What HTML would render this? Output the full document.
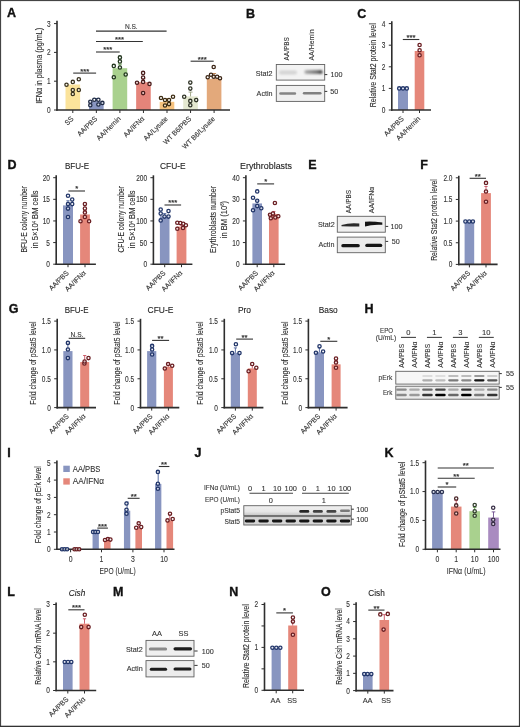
<!DOCTYPE html>
<html><head><meta charset="utf-8"><style>
html,body{margin:0;padding:0;background:#fff;}
svg{display:block;will-change:transform;}
text{font-family:"Liberation Sans",sans-serif;}
</style></head><body>
<svg width="520" height="727" viewBox="0 0 520 727">
<rect x="0" y="0" width="520" height="727" fill="#fff"/>
<defs><filter id="b4" x="-20%" y="-100%" width="140%" height="300%"><feGaussianBlur stdDeviation="0.75"/></filter></defs>
<defs><filter id="b6" x="-20%" y="-100%" width="140%" height="300%"><feGaussianBlur stdDeviation="0.85"/></filter></defs>
<text x="7.00" y="17.00" font-size="12.5" fill="#111" stroke="#111" stroke-width="0.35" font-weight="bold">A</text>
<rect x="65.50" y="84.50" width="14.60" height="25.50" fill="#FBE39B"/>
<rect x="89.05" y="101.30" width="14.60" height="8.70" fill="#8895C0"/>
<rect x="112.60" y="68.20" width="14.60" height="41.80" fill="#A9D18E"/>
<rect x="136.15" y="82.30" width="14.60" height="27.70" fill="#E5847A"/>
<rect x="159.70" y="101.80" width="14.60" height="8.20" fill="#F6C27E"/>
<rect x="183.25" y="96.40" width="14.60" height="13.60" fill="#E4E8D0"/>
<rect x="206.80" y="78.80" width="14.60" height="31.20" fill="#E3A97B"/>
<circle cx="66.50" cy="84.70" r="1.65" fill="#fff" fill-opacity="0.6" stroke="#3a3320" stroke-width="1.3"/>
<circle cx="72.80" cy="81.90" r="1.65" fill="#fff" fill-opacity="0.6" stroke="#3a3320" stroke-width="1.3"/>
<circle cx="78.80" cy="79.20" r="1.65" fill="#fff" fill-opacity="0.6" stroke="#3a3320" stroke-width="1.3"/>
<circle cx="72.80" cy="90.00" r="1.65" fill="#fff" fill-opacity="0.6" stroke="#3a3320" stroke-width="1.3"/>
<circle cx="78.80" cy="90.00" r="1.65" fill="#fff" fill-opacity="0.6" stroke="#3a3320" stroke-width="1.3"/>
<circle cx="72.80" cy="94.00" r="1.65" fill="#fff" fill-opacity="0.6" stroke="#3a3320" stroke-width="1.3"/>
<line x1="96.35" y1="101.30" x2="96.35" y2="98.50" stroke="#4a6098" stroke-width="0.9"/>
<line x1="94.35" y1="98.50" x2="98.35" y2="98.50" stroke="#4a6098" stroke-width="0.9"/>
<circle cx="90.30" cy="101.80" r="1.65" fill="#fff" fill-opacity="0.6" stroke="#1e2a44" stroke-width="1.3"/>
<circle cx="94.30" cy="99.80" r="1.65" fill="#fff" fill-opacity="0.6" stroke="#1e2a44" stroke-width="1.3"/>
<circle cx="98.40" cy="99.80" r="1.65" fill="#fff" fill-opacity="0.6" stroke="#1e2a44" stroke-width="1.3"/>
<circle cx="102.40" cy="102.90" r="1.65" fill="#fff" fill-opacity="0.6" stroke="#1e2a44" stroke-width="1.3"/>
<circle cx="90.30" cy="105.20" r="1.65" fill="#fff" fill-opacity="0.6" stroke="#1e2a44" stroke-width="1.3"/>
<circle cx="98.40" cy="104.50" r="1.65" fill="#fff" fill-opacity="0.6" stroke="#1e2a44" stroke-width="1.3"/>
<line x1="119.90" y1="68.20" x2="119.90" y2="64.10" stroke="#5f9a4a" stroke-width="0.9"/>
<line x1="117.90" y1="64.10" x2="121.90" y2="64.10" stroke="#5f9a4a" stroke-width="0.9"/>
<circle cx="119.90" cy="57.40" r="1.65" fill="#fff" fill-opacity="0.6" stroke="#22361e" stroke-width="1.3"/>
<circle cx="119.90" cy="61.40" r="1.65" fill="#fff" fill-opacity="0.6" stroke="#22361e" stroke-width="1.3"/>
<circle cx="113.80" cy="65.90" r="1.65" fill="#fff" fill-opacity="0.6" stroke="#22361e" stroke-width="1.3"/>
<circle cx="119.90" cy="67.50" r="1.65" fill="#fff" fill-opacity="0.6" stroke="#22361e" stroke-width="1.3"/>
<circle cx="125.70" cy="74.50" r="1.65" fill="#fff" fill-opacity="0.6" stroke="#22361e" stroke-width="1.3"/>
<circle cx="113.80" cy="77.30" r="1.65" fill="#fff" fill-opacity="0.6" stroke="#22361e" stroke-width="1.3"/>
<line x1="143.45" y1="82.30" x2="143.45" y2="78.70" stroke="#c84f5e" stroke-width="0.9"/>
<line x1="141.45" y1="78.70" x2="145.45" y2="78.70" stroke="#c84f5e" stroke-width="0.9"/>
<circle cx="143.10" cy="72.90" r="1.65" fill="#fff" fill-opacity="0.6" stroke="#4a1d1c" stroke-width="1.3"/>
<circle cx="143.10" cy="77.60" r="1.65" fill="#fff" fill-opacity="0.6" stroke="#4a1d1c" stroke-width="1.3"/>
<circle cx="137.00" cy="82.70" r="1.65" fill="#fff" fill-opacity="0.6" stroke="#4a1d1c" stroke-width="1.3"/>
<circle cx="143.10" cy="81.90" r="1.65" fill="#fff" fill-opacity="0.6" stroke="#4a1d1c" stroke-width="1.3"/>
<circle cx="149.50" cy="83.90" r="1.65" fill="#fff" fill-opacity="0.6" stroke="#4a1d1c" stroke-width="1.3"/>
<circle cx="143.10" cy="93.10" r="1.65" fill="#fff" fill-opacity="0.6" stroke="#4a1d1c" stroke-width="1.3"/>
<line x1="167.00" y1="101.80" x2="167.00" y2="99.00" stroke="#d09040" stroke-width="0.9"/>
<line x1="165.00" y1="99.00" x2="169.00" y2="99.00" stroke="#d09040" stroke-width="0.9"/>
<circle cx="161.00" cy="98.00" r="1.65" fill="#fff" fill-opacity="0.6" stroke="#3d2c12" stroke-width="1.3"/>
<circle cx="165.00" cy="100.00" r="1.65" fill="#fff" fill-opacity="0.6" stroke="#3d2c12" stroke-width="1.3"/>
<circle cx="169.00" cy="100.00" r="1.65" fill="#fff" fill-opacity="0.6" stroke="#3d2c12" stroke-width="1.3"/>
<circle cx="173.00" cy="96.80" r="1.65" fill="#fff" fill-opacity="0.6" stroke="#3d2c12" stroke-width="1.3"/>
<circle cx="165.00" cy="105.50" r="1.65" fill="#fff" fill-opacity="0.6" stroke="#3d2c12" stroke-width="1.3"/>
<circle cx="169.00" cy="104.10" r="1.65" fill="#fff" fill-opacity="0.6" stroke="#3d2c12" stroke-width="1.3"/>
<line x1="190.55" y1="96.40" x2="190.55" y2="92.10" stroke="#9aa080" stroke-width="0.9"/>
<line x1="188.55" y1="92.10" x2="192.55" y2="92.10" stroke="#9aa080" stroke-width="0.9"/>
<circle cx="190.30" cy="82.60" r="1.65" fill="#fff" fill-opacity="0.6" stroke="#2f3326" stroke-width="1.3"/>
<circle cx="190.30" cy="88.60" r="1.65" fill="#fff" fill-opacity="0.6" stroke="#2f3326" stroke-width="1.3"/>
<circle cx="184.20" cy="96.70" r="1.65" fill="#fff" fill-opacity="0.6" stroke="#2f3326" stroke-width="1.3"/>
<circle cx="196.20" cy="100.10" r="1.65" fill="#fff" fill-opacity="0.6" stroke="#2f3326" stroke-width="1.3"/>
<circle cx="190.30" cy="100.90" r="1.65" fill="#fff" fill-opacity="0.6" stroke="#2f3326" stroke-width="1.3"/>
<circle cx="190.30" cy="105.20" r="1.65" fill="#fff" fill-opacity="0.6" stroke="#2f3326" stroke-width="1.3"/>
<line x1="214.10" y1="78.80" x2="214.10" y2="73.50" stroke="#b87a4a" stroke-width="0.9"/>
<line x1="212.10" y1="73.50" x2="216.10" y2="73.50" stroke="#b87a4a" stroke-width="0.9"/>
<circle cx="213.70" cy="67.00" r="1.65" fill="#fff" fill-opacity="0.6" stroke="#3c2616" stroke-width="1.3"/>
<circle cx="207.70" cy="77.20" r="1.65" fill="#fff" fill-opacity="0.6" stroke="#3c2616" stroke-width="1.3"/>
<circle cx="211.00" cy="74.80" r="1.65" fill="#fff" fill-opacity="0.6" stroke="#3c2616" stroke-width="1.3"/>
<circle cx="213.70" cy="76.80" r="1.65" fill="#fff" fill-opacity="0.6" stroke="#3c2616" stroke-width="1.3"/>
<circle cx="217.10" cy="76.80" r="1.65" fill="#fff" fill-opacity="0.6" stroke="#3c2616" stroke-width="1.3"/>
<circle cx="220.00" cy="78.20" r="1.65" fill="#fff" fill-opacity="0.6" stroke="#3c2616" stroke-width="1.3"/>
<line x1="57.00" y1="20.80" x2="57.00" y2="110.80" stroke="#2e2e2e" stroke-width="1.6"/>
<line x1="54.00" y1="110.00" x2="57.00" y2="110.00" stroke="#2e2e2e" stroke-width="1"/>
<text transform="translate(50.70,112.92) rotate(0) scale(0.76,1)" font-size="8.6" fill="#333" stroke="#333" stroke-width="0.12" text-anchor="end">0</text>
<line x1="54.00" y1="81.20" x2="57.00" y2="81.20" stroke="#2e2e2e" stroke-width="1"/>
<text transform="translate(50.70,84.12) rotate(0) scale(0.76,1)" font-size="8.6" fill="#333" stroke="#333" stroke-width="0.12" text-anchor="end">1</text>
<line x1="54.00" y1="52.40" x2="57.00" y2="52.40" stroke="#2e2e2e" stroke-width="1"/>
<text transform="translate(50.70,55.32) rotate(0) scale(0.76,1)" font-size="8.6" fill="#333" stroke="#333" stroke-width="0.12" text-anchor="end">2</text>
<line x1="54.00" y1="23.60" x2="57.00" y2="23.60" stroke="#2e2e2e" stroke-width="1"/>
<text transform="translate(50.70,26.52) rotate(0) scale(0.76,1)" font-size="8.6" fill="#333" stroke="#333" stroke-width="0.12" text-anchor="end">3</text>
<line x1="56.20" y1="110.00" x2="230.00" y2="110.00" stroke="#2e2e2e" stroke-width="1.6"/>
<line x1="72.80" y1="110.00" x2="72.80" y2="113.00" stroke="#2e2e2e" stroke-width="1"/>
<line x1="96.35" y1="110.00" x2="96.35" y2="113.00" stroke="#2e2e2e" stroke-width="1"/>
<line x1="119.90" y1="110.00" x2="119.90" y2="113.00" stroke="#2e2e2e" stroke-width="1"/>
<line x1="143.45" y1="110.00" x2="143.45" y2="113.00" stroke="#2e2e2e" stroke-width="1"/>
<line x1="167.00" y1="110.00" x2="167.00" y2="113.00" stroke="#2e2e2e" stroke-width="1"/>
<line x1="190.55" y1="110.00" x2="190.55" y2="113.00" stroke="#2e2e2e" stroke-width="1"/>
<line x1="214.10" y1="110.00" x2="214.10" y2="113.00" stroke="#2e2e2e" stroke-width="1"/>
<text transform="translate(42.10,65.70) rotate(-90)" font-size="9.2" fill="#2a2a2a" stroke="#2a2a2a" stroke-width="0.1" text-anchor="middle" textLength="76" lengthAdjust="spacingAndGlyphs">IFNα in plasma (pg/mL)</text>
<text transform="translate(74.10,119.20) rotate(-45) scale(0.97,1)" font-size="7.1" fill="#333" stroke="#333" stroke-width="0.1" text-anchor="end">SS</text>
<text transform="translate(97.65,119.20) rotate(-45) scale(0.97,1)" font-size="7.1" fill="#333" stroke="#333" stroke-width="0.1" text-anchor="end">AA/PBS</text>
<text transform="translate(121.20,119.20) rotate(-45) scale(0.97,1)" font-size="7.1" fill="#333" stroke="#333" stroke-width="0.1" text-anchor="end">AA/Hemin</text>
<text transform="translate(144.75,119.20) rotate(-45) scale(0.97,1)" font-size="7.1" fill="#333" stroke="#333" stroke-width="0.1" text-anchor="end">AA/IFNα</text>
<text transform="translate(168.30,119.20) rotate(-45) scale(0.97,1)" font-size="7.1" fill="#333" stroke="#333" stroke-width="0.1" text-anchor="end">AA/Lysate</text>
<text transform="translate(191.85,119.20) rotate(-45) scale(0.97,1)" font-size="7.1" fill="#333" stroke="#333" stroke-width="0.1" text-anchor="end">WT B6/PBS</text>
<text transform="translate(215.40,119.20) rotate(-45) scale(0.97,1)" font-size="7.1" fill="#333" stroke="#333" stroke-width="0.1" text-anchor="end">WT B6/Lysate</text>
<line x1="73.20" y1="73.10" x2="96.10" y2="73.10" stroke="#333" stroke-width="1.1"/>
<text x="84.65" y="73.55" font-size="7.7" fill="#333" stroke="#333" stroke-width="0.25" text-anchor="middle">***</text>
<line x1="96.00" y1="52.00" x2="119.70" y2="52.00" stroke="#333" stroke-width="1.1"/>
<text x="107.85" y="52.45" font-size="7.7" fill="#333" stroke="#333" stroke-width="0.25" text-anchor="middle">***</text>
<line x1="96.00" y1="41.50" x2="142.80" y2="41.50" stroke="#333" stroke-width="1.1"/>
<text x="119.40" y="41.95" font-size="7.7" fill="#333" stroke="#333" stroke-width="0.25" text-anchor="middle">***</text>
<line x1="96.00" y1="31.10" x2="166.60" y2="31.10" stroke="#333" stroke-width="1.1"/>
<text x="131.30" y="29.30" font-size="6.6" fill="#333" stroke="#333" stroke-width="0.1" text-anchor="middle">N.S.</text>
<line x1="190.60" y1="61.20" x2="213.70" y2="61.20" stroke="#333" stroke-width="1.1"/>
<text x="202.15" y="61.65" font-size="7.7" fill="#333" stroke="#333" stroke-width="0.25" text-anchor="middle">***</text>
<text x="246.00" y="17.50" font-size="12.5" fill="#111" stroke="#111" stroke-width="0.35" font-weight="bold">B</text>
<text transform="translate(289.30,60.50) rotate(-90)" font-size="6.9" fill="#333" stroke="#333" stroke-width="0.1" textLength="23.4" lengthAdjust="spacingAndGlyphs">AA/PBS</text>
<text transform="translate(314.40,60.50) rotate(-90)" font-size="6.9" fill="#333" stroke="#333" stroke-width="0.1" textLength="31.2" lengthAdjust="spacingAndGlyphs">AA/Hemin</text>
<rect x="276.30" y="64.50" width="48.40" height="15.60" fill="#f3f3f3" stroke="#606060" stroke-width="0.9"/>
<rect x="279.00" y="70.60" width="18.00" height="3.80" rx="1.90" fill="#d4d4d4" opacity="1.0" filter="url(#b6)"/>
<defs><linearGradient id="gB2" x1="0" x2="1" y1="0" y2="0"><stop offset="0" stop-color="#b0b0b0"/><stop offset="0.7" stop-color="#777"/><stop offset="1" stop-color="#3a3a3a"/></linearGradient></defs>
<rect x="304.30" y="70.10" width="18.40" height="3.80" rx="1.90" fill="url(#gB2)" opacity="1.0" filter="url(#b6)"/>
<rect x="276.30" y="85.40" width="48.40" height="16.00" fill="#f0f0f0" stroke="#606060" stroke-width="0.9"/>
<rect x="279.20" y="92.20" width="17.00" height="2.60" rx="1.30" fill="#858585" opacity="1.0" filter="url(#b4)"/>
<rect x="302.80" y="92.00" width="18.80" height="2.60" rx="1.30" fill="#808080" opacity="1.0" filter="url(#b4)"/>
<text x="272.60" y="75.60" font-size="7.2" fill="#333" stroke="#333" stroke-width="0.1" text-anchor="end">Stat2</text>
<text x="272.60" y="96.30" font-size="7.2" fill="#333" stroke="#333" stroke-width="0.1" text-anchor="end">Actin</text>
<line x1="324.70" y1="74.60" x2="327.30" y2="74.60" stroke="#333" stroke-width="1.0"/>
<text x="330.50" y="77.19" font-size="7.2" fill="#333" stroke="#333" stroke-width="0.1">100</text>
<line x1="324.70" y1="91.40" x2="327.30" y2="91.40" stroke="#333" stroke-width="1.0"/>
<text x="330.30" y="93.99" font-size="7.2" fill="#333" stroke="#333" stroke-width="0.1">50</text>
<text x="357.30" y="17.50" font-size="12.5" fill="#111" stroke="#111" stroke-width="0.35" font-weight="bold">C</text>
<rect x="398.00" y="88.40" width="10.00" height="21.60" fill="#8895C0"/>
<rect x="414.70" y="51.00" width="9.60" height="59.00" fill="#E5877A"/>
<circle cx="399.20" cy="88.40" r="1.65" fill="#fff" fill-opacity="0.6" stroke="#22366a" stroke-width="1.3"/>
<circle cx="403.00" cy="88.40" r="1.65" fill="#fff" fill-opacity="0.6" stroke="#22366a" stroke-width="1.3"/>
<circle cx="406.80" cy="88.40" r="1.65" fill="#fff" fill-opacity="0.6" stroke="#22366a" stroke-width="1.3"/>
<circle cx="419.60" cy="45.00" r="1.65" fill="#fff" fill-opacity="0.6" stroke="#6a1e22" stroke-width="1.3"/>
<circle cx="419.60" cy="50.30" r="1.65" fill="#fff" fill-opacity="0.6" stroke="#6a1e22" stroke-width="1.3"/>
<circle cx="419.60" cy="55.30" r="1.65" fill="#fff" fill-opacity="0.6" stroke="#6a1e22" stroke-width="1.3"/>
<line x1="391.80" y1="21.20" x2="391.80" y2="110.80" stroke="#2e2e2e" stroke-width="1.6"/>
<line x1="388.80" y1="110.00" x2="391.80" y2="110.00" stroke="#2e2e2e" stroke-width="1"/>
<text transform="translate(385.50,112.92) rotate(0) scale(0.76,1)" font-size="8.6" fill="#333" stroke="#333" stroke-width="0.12" text-anchor="end">0</text>
<line x1="388.80" y1="88.40" x2="391.80" y2="88.40" stroke="#2e2e2e" stroke-width="1"/>
<text transform="translate(385.50,91.32) rotate(0) scale(0.76,1)" font-size="8.6" fill="#333" stroke="#333" stroke-width="0.12" text-anchor="end">1</text>
<line x1="388.80" y1="66.80" x2="391.80" y2="66.80" stroke="#2e2e2e" stroke-width="1"/>
<text transform="translate(385.50,69.72) rotate(0) scale(0.76,1)" font-size="8.6" fill="#333" stroke="#333" stroke-width="0.12" text-anchor="end">2</text>
<line x1="388.80" y1="45.20" x2="391.80" y2="45.20" stroke="#2e2e2e" stroke-width="1"/>
<text transform="translate(385.50,48.12) rotate(0) scale(0.76,1)" font-size="8.6" fill="#333" stroke="#333" stroke-width="0.12" text-anchor="end">3</text>
<line x1="388.80" y1="23.60" x2="391.80" y2="23.60" stroke="#2e2e2e" stroke-width="1"/>
<text transform="translate(385.50,26.52) rotate(0) scale(0.76,1)" font-size="8.6" fill="#333" stroke="#333" stroke-width="0.12" text-anchor="end">4</text>
<line x1="391.00" y1="110.00" x2="431.00" y2="110.00" stroke="#2e2e2e" stroke-width="1.6"/>
<line x1="403.00" y1="110.00" x2="403.00" y2="113.00" stroke="#2e2e2e" stroke-width="1"/>
<line x1="419.50" y1="110.00" x2="419.50" y2="113.00" stroke="#2e2e2e" stroke-width="1"/>
<text transform="translate(376.30,65.30) rotate(-90)" font-size="9.2" fill="#2a2a2a" stroke="#2a2a2a" stroke-width="0.1" text-anchor="middle" textLength="84" lengthAdjust="spacingAndGlyphs">Relative Stat2 protein level</text>
<text transform="translate(404.30,119.20) rotate(-45) scale(0.97,1)" font-size="7.1" fill="#333" stroke="#333" stroke-width="0.1" text-anchor="end">AA/PBS</text>
<text transform="translate(420.80,119.20) rotate(-45) scale(0.97,1)" font-size="7.1" fill="#333" stroke="#333" stroke-width="0.1" text-anchor="end">AA/Hemin</text>
<line x1="402.80" y1="39.50" x2="419.30" y2="39.50" stroke="#333" stroke-width="1.1"/>
<text x="411.05" y="39.95" font-size="7.7" fill="#333" stroke="#333" stroke-width="0.25" text-anchor="middle">***</text>
<text x="7.50" y="169.40" font-size="12.5" fill="#111" stroke="#111" stroke-width="0.35" font-weight="bold">D</text>
<text x="77.00" y="169.40" font-size="9.1" fill="#222" stroke="#222" stroke-width="0.1" text-anchor="middle" textLength="24.2" lengthAdjust="spacingAndGlyphs">BFU-E</text>
<rect x="63.00" y="205.38" width="10.00" height="58.82" fill="#8895C0"/>
<rect x="80.10" y="214.46" width="9.80" height="49.74" fill="#E5877A"/>
<line x1="68.00" y1="205.38" x2="68.00" y2="200.80" stroke="#4a6098" stroke-width="0.9"/>
<line x1="66.40" y1="200.80" x2="69.60" y2="200.80" stroke="#4a6098" stroke-width="0.9"/>
<line x1="85.00" y1="214.46" x2="85.00" y2="211.40" stroke="#c84f5e" stroke-width="0.9"/>
<line x1="83.40" y1="211.40" x2="86.60" y2="211.40" stroke="#c84f5e" stroke-width="0.9"/>
<circle cx="68.00" cy="195.80" r="1.65" fill="#fff" fill-opacity="0.6" stroke="#22366a" stroke-width="1.3"/>
<circle cx="72.20" cy="199.60" r="1.65" fill="#fff" fill-opacity="0.6" stroke="#22366a" stroke-width="1.3"/>
<circle cx="72.20" cy="204.10" r="1.65" fill="#fff" fill-opacity="0.6" stroke="#22366a" stroke-width="1.3"/>
<circle cx="68.00" cy="204.10" r="1.65" fill="#fff" fill-opacity="0.6" stroke="#22366a" stroke-width="1.3"/>
<circle cx="68.00" cy="208.60" r="1.65" fill="#fff" fill-opacity="0.6" stroke="#22366a" stroke-width="1.3"/>
<circle cx="68.00" cy="217.00" r="1.65" fill="#fff" fill-opacity="0.6" stroke="#22366a" stroke-width="1.3"/>
<circle cx="84.90" cy="204.10" r="1.65" fill="#fff" fill-opacity="0.6" stroke="#6a1e22" stroke-width="1.3"/>
<circle cx="84.90" cy="208.60" r="1.65" fill="#fff" fill-opacity="0.6" stroke="#6a1e22" stroke-width="1.3"/>
<circle cx="84.90" cy="212.40" r="1.65" fill="#fff" fill-opacity="0.6" stroke="#6a1e22" stroke-width="1.3"/>
<circle cx="84.90" cy="217.00" r="1.65" fill="#fff" fill-opacity="0.6" stroke="#6a1e22" stroke-width="1.3"/>
<circle cx="80.50" cy="221.20" r="1.65" fill="#fff" fill-opacity="0.6" stroke="#6a1e22" stroke-width="1.3"/>
<circle cx="89.10" cy="221.20" r="1.65" fill="#fff" fill-opacity="0.6" stroke="#6a1e22" stroke-width="1.3"/>
<line x1="56.20" y1="175.30" x2="56.20" y2="265.00" stroke="#2e2e2e" stroke-width="1.6"/>
<line x1="53.20" y1="264.20" x2="56.20" y2="264.20" stroke="#2e2e2e" stroke-width="1"/>
<text transform="translate(49.90,267.12) rotate(0) scale(0.76,1)" font-size="8.6" fill="#333" stroke="#333" stroke-width="0.12" text-anchor="end">0</text>
<line x1="53.20" y1="242.57" x2="56.20" y2="242.57" stroke="#2e2e2e" stroke-width="1"/>
<text transform="translate(49.90,245.50) rotate(0) scale(0.76,1)" font-size="8.6" fill="#333" stroke="#333" stroke-width="0.12" text-anchor="end">5</text>
<line x1="53.20" y1="220.95" x2="56.20" y2="220.95" stroke="#2e2e2e" stroke-width="1"/>
<text transform="translate(49.90,223.87) rotate(0) scale(0.76,1)" font-size="8.6" fill="#333" stroke="#333" stroke-width="0.12" text-anchor="end">10</text>
<line x1="53.20" y1="199.32" x2="56.20" y2="199.32" stroke="#2e2e2e" stroke-width="1"/>
<text transform="translate(49.90,202.25) rotate(0) scale(0.76,1)" font-size="8.6" fill="#333" stroke="#333" stroke-width="0.12" text-anchor="end">15</text>
<line x1="53.20" y1="177.70" x2="56.20" y2="177.70" stroke="#2e2e2e" stroke-width="1"/>
<text transform="translate(49.90,180.62) rotate(0) scale(0.76,1)" font-size="8.6" fill="#333" stroke="#333" stroke-width="0.12" text-anchor="end">20</text>
<line x1="55.40" y1="264.20" x2="95.90" y2="264.20" stroke="#2e2e2e" stroke-width="1.6"/>
<line x1="68.00" y1="264.20" x2="68.00" y2="267.20" stroke="#2e2e2e" stroke-width="1"/>
<line x1="85.00" y1="264.20" x2="85.00" y2="267.20" stroke="#2e2e2e" stroke-width="1"/>
<text transform="translate(26.60,219.30) rotate(-90)" font-size="9.2" fill="#2a2a2a" stroke="#2a2a2a" stroke-width="0.1" text-anchor="middle" textLength="66.5" lengthAdjust="spacingAndGlyphs">BFU-E colony number</text>
<text transform="translate(38.40,219.30) rotate(-90)" font-size="9.2" fill="#2a2a2a" stroke="#2a2a2a" stroke-width="0.1" text-anchor="middle" textLength="57.7" lengthAdjust="spacingAndGlyphs">in 5×10<tspan font-size="5" dy="-2.6">4</tspan><tspan dy="2.6"> BM cells</tspan></text>
<text transform="translate(69.30,273.40) rotate(-45) scale(0.97,1)" font-size="7.1" fill="#333" stroke="#333" stroke-width="0.1" text-anchor="end">AA/PBS</text>
<text transform="translate(86.30,273.40) rotate(-45) scale(0.97,1)" font-size="7.1" fill="#333" stroke="#333" stroke-width="0.1" text-anchor="end">AA/IFNα</text>
<line x1="68.40" y1="191.00" x2="85.00" y2="191.00" stroke="#333" stroke-width="1.1"/>
<text x="76.70" y="191.45" font-size="7.7" fill="#333" stroke="#333" stroke-width="0.25" text-anchor="middle">*</text>
<text x="172.80" y="169.40" font-size="9.1" fill="#222" stroke="#222" stroke-width="0.1" text-anchor="middle" textLength="25.7" lengthAdjust="spacingAndGlyphs">CFU-E</text>
<rect x="159.90" y="216.19" width="9.60" height="48.01" fill="#8895C0"/>
<rect x="176.60" y="226.57" width="9.80" height="37.63" fill="#E5877A"/>
<line x1="164.70" y1="216.19" x2="164.70" y2="213.60" stroke="#4a6098" stroke-width="0.9"/>
<line x1="163.10" y1="213.60" x2="166.30" y2="213.60" stroke="#4a6098" stroke-width="0.9"/>
<line x1="181.50" y1="226.57" x2="181.50" y2="224.84" stroke="#c84f5e" stroke-width="0.9"/>
<line x1="179.90" y1="224.84" x2="183.10" y2="224.84" stroke="#c84f5e" stroke-width="0.9"/>
<circle cx="160.70" cy="209.50" r="1.65" fill="#fff" fill-opacity="0.6" stroke="#22366a" stroke-width="1.3"/>
<circle cx="168.50" cy="211.10" r="1.65" fill="#fff" fill-opacity="0.6" stroke="#22366a" stroke-width="1.3"/>
<circle cx="160.70" cy="213.60" r="1.65" fill="#fff" fill-opacity="0.6" stroke="#22366a" stroke-width="1.3"/>
<circle cx="164.50" cy="216.60" r="1.65" fill="#fff" fill-opacity="0.6" stroke="#22366a" stroke-width="1.3"/>
<circle cx="168.50" cy="216.60" r="1.65" fill="#fff" fill-opacity="0.6" stroke="#22366a" stroke-width="1.3"/>
<circle cx="160.70" cy="220.40" r="1.65" fill="#fff" fill-opacity="0.6" stroke="#22366a" stroke-width="1.3"/>
<circle cx="177.30" cy="222.70" r="1.65" fill="#fff" fill-opacity="0.6" stroke="#6a1e22" stroke-width="1.3"/>
<circle cx="180.30" cy="223.10" r="1.65" fill="#fff" fill-opacity="0.6" stroke="#6a1e22" stroke-width="1.3"/>
<circle cx="183.30" cy="223.70" r="1.65" fill="#fff" fill-opacity="0.6" stroke="#6a1e22" stroke-width="1.3"/>
<circle cx="185.90" cy="225.30" r="1.65" fill="#fff" fill-opacity="0.6" stroke="#6a1e22" stroke-width="1.3"/>
<circle cx="177.30" cy="228.70" r="1.65" fill="#fff" fill-opacity="0.6" stroke="#6a1e22" stroke-width="1.3"/>
<circle cx="183.00" cy="228.00" r="1.65" fill="#fff" fill-opacity="0.6" stroke="#6a1e22" stroke-width="1.3"/>
<line x1="153.40" y1="175.30" x2="153.40" y2="265.00" stroke="#2e2e2e" stroke-width="1.6"/>
<line x1="150.40" y1="264.20" x2="153.40" y2="264.20" stroke="#2e2e2e" stroke-width="1"/>
<text transform="translate(147.10,267.12) rotate(0) scale(0.76,1)" font-size="8.6" fill="#333" stroke="#333" stroke-width="0.12" text-anchor="end">0</text>
<line x1="150.40" y1="242.57" x2="153.40" y2="242.57" stroke="#2e2e2e" stroke-width="1"/>
<text transform="translate(147.10,245.50) rotate(0) scale(0.76,1)" font-size="8.6" fill="#333" stroke="#333" stroke-width="0.12" text-anchor="end">50</text>
<line x1="150.40" y1="220.95" x2="153.40" y2="220.95" stroke="#2e2e2e" stroke-width="1"/>
<text transform="translate(147.10,223.87) rotate(0) scale(0.76,1)" font-size="8.6" fill="#333" stroke="#333" stroke-width="0.12" text-anchor="end">100</text>
<line x1="150.40" y1="199.32" x2="153.40" y2="199.32" stroke="#2e2e2e" stroke-width="1"/>
<text transform="translate(147.10,202.25) rotate(0) scale(0.76,1)" font-size="8.6" fill="#333" stroke="#333" stroke-width="0.12" text-anchor="end">150</text>
<line x1="150.40" y1="177.70" x2="153.40" y2="177.70" stroke="#2e2e2e" stroke-width="1"/>
<text transform="translate(147.10,180.62) rotate(0) scale(0.76,1)" font-size="8.6" fill="#333" stroke="#333" stroke-width="0.12" text-anchor="end">200</text>
<line x1="152.60" y1="264.20" x2="192.40" y2="264.20" stroke="#2e2e2e" stroke-width="1.6"/>
<line x1="164.70" y1="264.20" x2="164.70" y2="267.20" stroke="#2e2e2e" stroke-width="1"/>
<line x1="181.50" y1="264.20" x2="181.50" y2="267.20" stroke="#2e2e2e" stroke-width="1"/>
<text transform="translate(123.50,219.30) rotate(-90)" font-size="9.2" fill="#2a2a2a" stroke="#2a2a2a" stroke-width="0.1" text-anchor="middle" textLength="66.5" lengthAdjust="spacingAndGlyphs">CFU-E colony number</text>
<text transform="translate(135.30,219.30) rotate(-90)" font-size="9.2" fill="#2a2a2a" stroke="#2a2a2a" stroke-width="0.1" text-anchor="middle" textLength="57.7" lengthAdjust="spacingAndGlyphs">in 5×10<tspan font-size="5" dy="-2.6">4</tspan><tspan dy="2.6"> BM cells</tspan></text>
<text transform="translate(166.00,273.40) rotate(-45) scale(0.97,1)" font-size="7.1" fill="#333" stroke="#333" stroke-width="0.1" text-anchor="end">AA/PBS</text>
<text transform="translate(182.80,273.40) rotate(-45) scale(0.97,1)" font-size="7.1" fill="#333" stroke="#333" stroke-width="0.1" text-anchor="end">AA/IFNα</text>
<line x1="164.50" y1="205.00" x2="181.10" y2="205.00" stroke="#333" stroke-width="1.1"/>
<text x="172.80" y="205.45" font-size="7.7" fill="#333" stroke="#333" stroke-width="0.25" text-anchor="middle">***</text>
<text x="266.00" y="169.40" font-size="9.1" fill="#222" stroke="#222" stroke-width="0.1" text-anchor="middle" textLength="52" lengthAdjust="spacingAndGlyphs">Erythroblasts</text>
<rect x="252.40" y="203.43" width="9.60" height="60.77" fill="#8895C0"/>
<rect x="269.00" y="214.03" width="9.60" height="50.17" fill="#E5877A"/>
<line x1="257.20" y1="203.43" x2="257.20" y2="200.41" stroke="#4a6098" stroke-width="0.9"/>
<line x1="255.60" y1="200.41" x2="258.80" y2="200.41" stroke="#4a6098" stroke-width="0.9"/>
<line x1="273.80" y1="214.03" x2="273.80" y2="211.44" stroke="#c84f5e" stroke-width="0.9"/>
<line x1="272.20" y1="211.44" x2="275.40" y2="211.44" stroke="#c84f5e" stroke-width="0.9"/>
<circle cx="257.20" cy="191.40" r="1.65" fill="#fff" fill-opacity="0.6" stroke="#22366a" stroke-width="1.3"/>
<circle cx="253.00" cy="197.80" r="1.65" fill="#fff" fill-opacity="0.6" stroke="#22366a" stroke-width="1.3"/>
<circle cx="257.20" cy="200.80" r="1.65" fill="#fff" fill-opacity="0.6" stroke="#22366a" stroke-width="1.3"/>
<circle cx="257.20" cy="206.10" r="1.65" fill="#fff" fill-opacity="0.6" stroke="#22366a" stroke-width="1.3"/>
<circle cx="261.30" cy="208.30" r="1.65" fill="#fff" fill-opacity="0.6" stroke="#22366a" stroke-width="1.3"/>
<circle cx="253.00" cy="210.20" r="1.65" fill="#fff" fill-opacity="0.6" stroke="#22366a" stroke-width="1.3"/>
<circle cx="274.90" cy="203.00" r="1.65" fill="#fff" fill-opacity="0.6" stroke="#6a1e22" stroke-width="1.3"/>
<circle cx="273.00" cy="213.60" r="1.65" fill="#fff" fill-opacity="0.6" stroke="#6a1e22" stroke-width="1.3"/>
<circle cx="270.00" cy="214.70" r="1.65" fill="#fff" fill-opacity="0.6" stroke="#6a1e22" stroke-width="1.3"/>
<circle cx="270.80" cy="218.20" r="1.65" fill="#fff" fill-opacity="0.6" stroke="#6a1e22" stroke-width="1.3"/>
<circle cx="275.30" cy="217.40" r="1.65" fill="#fff" fill-opacity="0.6" stroke="#6a1e22" stroke-width="1.3"/>
<circle cx="278.30" cy="216.20" r="1.65" fill="#fff" fill-opacity="0.6" stroke="#6a1e22" stroke-width="1.3"/>
<line x1="245.90" y1="175.30" x2="245.90" y2="265.00" stroke="#2e2e2e" stroke-width="1.6"/>
<line x1="242.90" y1="264.20" x2="245.90" y2="264.20" stroke="#2e2e2e" stroke-width="1"/>
<text transform="translate(239.60,267.12) rotate(0) scale(0.76,1)" font-size="8.6" fill="#333" stroke="#333" stroke-width="0.12" text-anchor="end">0</text>
<line x1="242.90" y1="242.57" x2="245.90" y2="242.57" stroke="#2e2e2e" stroke-width="1"/>
<text transform="translate(239.60,245.50) rotate(0) scale(0.76,1)" font-size="8.6" fill="#333" stroke="#333" stroke-width="0.12" text-anchor="end">10</text>
<line x1="242.90" y1="220.95" x2="245.90" y2="220.95" stroke="#2e2e2e" stroke-width="1"/>
<text transform="translate(239.60,223.87) rotate(0) scale(0.76,1)" font-size="8.6" fill="#333" stroke="#333" stroke-width="0.12" text-anchor="end">20</text>
<line x1="242.90" y1="199.32" x2="245.90" y2="199.32" stroke="#2e2e2e" stroke-width="1"/>
<text transform="translate(239.60,202.25) rotate(0) scale(0.76,1)" font-size="8.6" fill="#333" stroke="#333" stroke-width="0.12" text-anchor="end">30</text>
<line x1="242.90" y1="177.70" x2="245.90" y2="177.70" stroke="#2e2e2e" stroke-width="1"/>
<text transform="translate(239.60,180.62) rotate(0) scale(0.76,1)" font-size="8.6" fill="#333" stroke="#333" stroke-width="0.12" text-anchor="end">40</text>
<line x1="245.10" y1="264.20" x2="285.10" y2="264.20" stroke="#2e2e2e" stroke-width="1.6"/>
<line x1="257.20" y1="264.20" x2="257.20" y2="267.20" stroke="#2e2e2e" stroke-width="1"/>
<line x1="273.80" y1="264.20" x2="273.80" y2="267.20" stroke="#2e2e2e" stroke-width="1"/>
<text transform="translate(215.60,219.50) rotate(-90)" font-size="9.2" fill="#2a2a2a" stroke="#2a2a2a" stroke-width="0.1" text-anchor="middle" textLength="67" lengthAdjust="spacingAndGlyphs">Erythroblasts number</text>
<text transform="translate(226.80,219.60) rotate(-90)" font-size="9.2" fill="#2a2a2a" stroke="#2a2a2a" stroke-width="0.1" text-anchor="middle" textLength="37.3" lengthAdjust="spacingAndGlyphs">in BM (10<tspan font-size="5" dy="-2.6">6</tspan><tspan dy="2.6">)</tspan></text>
<text transform="translate(258.50,273.40) rotate(-45) scale(0.97,1)" font-size="7.1" fill="#333" stroke="#333" stroke-width="0.1" text-anchor="end">AA/PBS</text>
<text transform="translate(275.10,273.40) rotate(-45) scale(0.97,1)" font-size="7.1" fill="#333" stroke="#333" stroke-width="0.1" text-anchor="end">AA/IFNα</text>
<line x1="257.20" y1="183.90" x2="274.10" y2="183.90" stroke="#333" stroke-width="1.1"/>
<text x="265.65" y="184.35" font-size="7.7" fill="#333" stroke="#333" stroke-width="0.25" text-anchor="middle">*</text>
<text x="308.20" y="169.30" font-size="12.5" fill="#111" stroke="#111" stroke-width="0.35" font-weight="bold">E</text>
<text transform="translate(351.40,213.20) rotate(-90)" font-size="6.9" fill="#333" stroke="#333" stroke-width="0.1" textLength="23.4" lengthAdjust="spacingAndGlyphs">AA/PBS</text>
<text transform="translate(374.40,213.20) rotate(-90)" font-size="6.9" fill="#333" stroke="#333" stroke-width="0.1" textLength="26.5" lengthAdjust="spacingAndGlyphs">AA/IFNα</text>
<rect x="337.30" y="216.30" width="48.00" height="15.90" fill="#efefef" stroke="#606060" stroke-width="0.9"/>
<path d="M341.5,224.9 Q350,222.6 359.3,223.6 L359.3,226.6 Q350,226.6 341.5,226.3 Z" fill="#2a2a2a" filter="url(#b4)"/>
<path d="M365,221.8 Q372,221.2 382.3,222.6 L382.3,224.8 Q372,224.2 365,226.4 Z" fill="#141414" filter="url(#b4)"/>
<rect x="337.30" y="237.10" width="48.00" height="15.60" fill="#ececec" stroke="#606060" stroke-width="0.9"/>
<rect x="341.30" y="244.05" width="18.50" height="3.30" rx="1.65" fill="#151515" opacity="1.0" filter="url(#b4)"/>
<rect x="365.20" y="243.75" width="17.10" height="3.30" rx="1.65" fill="#151515" opacity="1.0" filter="url(#b4)"/>
<text x="334.70" y="227.00" font-size="7.2" fill="#333" stroke="#333" stroke-width="0.1" text-anchor="end">Stat2</text>
<text x="334.40" y="246.60" font-size="7.2" fill="#333" stroke="#333" stroke-width="0.1" text-anchor="end">Actin</text>
<line x1="385.60" y1="226.40" x2="388.20" y2="226.40" stroke="#333" stroke-width="1.0"/>
<text x="390.60" y="228.99" font-size="7.2" fill="#333" stroke="#333" stroke-width="0.1">100</text>
<line x1="385.60" y1="241.40" x2="388.20" y2="241.40" stroke="#333" stroke-width="1.0"/>
<text x="391.70" y="243.99" font-size="7.2" fill="#333" stroke="#333" stroke-width="0.1">50</text>
<text x="420.30" y="169.30" font-size="12.5" fill="#111" stroke="#111" stroke-width="0.35" font-weight="bold">F</text>
<rect x="464.60" y="221.10" width="9.60" height="43.30" fill="#8895C0"/>
<rect x="481.10" y="193.10" width="9.80" height="71.30" fill="#E5877A"/>
<line x1="486.00" y1="193.10" x2="486.00" y2="186.50" stroke="#c84f5e" stroke-width="0.9"/>
<line x1="484.40" y1="186.50" x2="487.60" y2="186.50" stroke="#c84f5e" stroke-width="0.9"/>
<circle cx="465.40" cy="221.50" r="1.65" fill="#fff" fill-opacity="0.6" stroke="#22366a" stroke-width="1.3"/>
<circle cx="469.20" cy="221.50" r="1.65" fill="#fff" fill-opacity="0.6" stroke="#22366a" stroke-width="1.3"/>
<circle cx="472.90" cy="221.50" r="1.65" fill="#fff" fill-opacity="0.6" stroke="#22366a" stroke-width="1.3"/>
<circle cx="486.00" cy="182.90" r="1.65" fill="#fff" fill-opacity="0.6" stroke="#6a1e22" stroke-width="1.3"/>
<circle cx="486.00" cy="191.50" r="1.65" fill="#fff" fill-opacity="0.6" stroke="#6a1e22" stroke-width="1.3"/>
<circle cx="486.00" cy="201.70" r="1.65" fill="#fff" fill-opacity="0.6" stroke="#6a1e22" stroke-width="1.3"/>
<line x1="458.80" y1="175.80" x2="458.80" y2="265.20" stroke="#2e2e2e" stroke-width="1.6"/>
<line x1="455.80" y1="264.40" x2="458.80" y2="264.40" stroke="#2e2e2e" stroke-width="1"/>
<text transform="translate(452.50,267.32) rotate(0) scale(0.76,1)" font-size="8.6" fill="#333" stroke="#333" stroke-width="0.12" text-anchor="end">0</text>
<line x1="455.80" y1="242.75" x2="458.80" y2="242.75" stroke="#2e2e2e" stroke-width="1"/>
<text transform="translate(452.50,245.67) rotate(0) scale(0.76,1)" font-size="8.6" fill="#333" stroke="#333" stroke-width="0.12" text-anchor="end">0.5</text>
<line x1="455.80" y1="221.10" x2="458.80" y2="221.10" stroke="#2e2e2e" stroke-width="1"/>
<text transform="translate(452.50,224.02) rotate(0) scale(0.76,1)" font-size="8.6" fill="#333" stroke="#333" stroke-width="0.12" text-anchor="end">1.0</text>
<line x1="455.80" y1="199.45" x2="458.80" y2="199.45" stroke="#2e2e2e" stroke-width="1"/>
<text transform="translate(452.50,202.37) rotate(0) scale(0.76,1)" font-size="8.6" fill="#333" stroke="#333" stroke-width="0.12" text-anchor="end">1.5</text>
<line x1="455.80" y1="177.80" x2="458.80" y2="177.80" stroke="#2e2e2e" stroke-width="1"/>
<text transform="translate(452.50,180.72) rotate(0) scale(0.76,1)" font-size="8.6" fill="#333" stroke="#333" stroke-width="0.12" text-anchor="end">2.0</text>
<line x1="458.00" y1="264.40" x2="497.60" y2="264.40" stroke="#2e2e2e" stroke-width="1.6"/>
<line x1="469.40" y1="264.40" x2="469.40" y2="267.40" stroke="#2e2e2e" stroke-width="1"/>
<line x1="486.00" y1="264.40" x2="486.00" y2="267.40" stroke="#2e2e2e" stroke-width="1"/>
<text transform="translate(436.70,220.00) rotate(-90)" font-size="9.2" fill="#2a2a2a" stroke="#2a2a2a" stroke-width="0.1" text-anchor="middle" textLength="81.7" lengthAdjust="spacingAndGlyphs">Relative Stat2 protein level</text>
<text transform="translate(470.70,273.60) rotate(-45) scale(0.97,1)" font-size="7.1" fill="#333" stroke="#333" stroke-width="0.1" text-anchor="end">AA/PBS</text>
<text transform="translate(487.30,273.60) rotate(-45) scale(0.97,1)" font-size="7.1" fill="#333" stroke="#333" stroke-width="0.1" text-anchor="end">AA/IFNα</text>
<line x1="469.60" y1="178.30" x2="486.00" y2="178.30" stroke="#333" stroke-width="1.1"/>
<text x="477.80" y="178.75" font-size="7.7" fill="#333" stroke="#333" stroke-width="0.25" text-anchor="middle">**</text>
<text x="8.70" y="313.30" font-size="12.5" fill="#111" stroke="#111" stroke-width="0.35" font-weight="bold">G</text>
<text x="76.60" y="312.80" font-size="9.1" fill="#222" stroke="#222" stroke-width="0.1" text-anchor="middle" textLength="23.9" lengthAdjust="spacingAndGlyphs">BFU-E</text>
<rect x="63.30" y="351.09" width="9.20" height="56.51" fill="#8895C0"/>
<rect x="80.20" y="362.04" width="9.00" height="45.56" fill="#E5877A"/>
<line x1="67.90" y1="351.09" x2="67.90" y2="343.50" stroke="#4a6098" stroke-width="0.9"/>
<line x1="66.30" y1="343.50" x2="69.50" y2="343.50" stroke="#4a6098" stroke-width="0.9"/>
<line x1="84.70" y1="362.04" x2="84.70" y2="355.50" stroke="#c84f5e" stroke-width="0.9"/>
<line x1="83.10" y1="355.50" x2="86.30" y2="355.50" stroke="#c84f5e" stroke-width="0.9"/>
<circle cx="67.90" cy="342.90" r="1.65" fill="#fff" fill-opacity="0.6" stroke="#22366a" stroke-width="1.3"/>
<circle cx="67.90" cy="349.50" r="1.65" fill="#fff" fill-opacity="0.6" stroke="#22366a" stroke-width="1.3"/>
<circle cx="67.90" cy="358.10" r="1.65" fill="#fff" fill-opacity="0.6" stroke="#22366a" stroke-width="1.3"/>
<circle cx="84.40" cy="363.50" r="1.65" fill="#fff" fill-opacity="0.6" stroke="#6a1e22" stroke-width="1.3"/>
<circle cx="88.50" cy="358.10" r="1.65" fill="#fff" fill-opacity="0.6" stroke="#6a1e22" stroke-width="1.3"/>
<circle cx="84.60" cy="361.50" r="1.65" fill="#fff" fill-opacity="0.6" stroke="#6a1e22" stroke-width="1.3"/>
<line x1="57.20" y1="318.80" x2="57.20" y2="408.40" stroke="#2e2e2e" stroke-width="1.6"/>
<line x1="54.20" y1="407.60" x2="57.20" y2="407.60" stroke="#2e2e2e" stroke-width="1"/>
<text transform="translate(50.90,410.52) rotate(0) scale(0.76,1)" font-size="8.6" fill="#333" stroke="#333" stroke-width="0.12" text-anchor="end">0</text>
<line x1="54.20" y1="378.77" x2="57.20" y2="378.77" stroke="#2e2e2e" stroke-width="1"/>
<text transform="translate(50.90,381.69) rotate(0) scale(0.76,1)" font-size="8.6" fill="#333" stroke="#333" stroke-width="0.12" text-anchor="end">0.5</text>
<line x1="54.20" y1="349.93" x2="57.20" y2="349.93" stroke="#2e2e2e" stroke-width="1"/>
<text transform="translate(50.90,352.86) rotate(0) scale(0.76,1)" font-size="8.6" fill="#333" stroke="#333" stroke-width="0.12" text-anchor="end">1.0</text>
<line x1="54.20" y1="321.10" x2="57.20" y2="321.10" stroke="#2e2e2e" stroke-width="1"/>
<text transform="translate(50.90,324.02) rotate(0) scale(0.76,1)" font-size="8.6" fill="#333" stroke="#333" stroke-width="0.12" text-anchor="end">1.5</text>
<line x1="56.40" y1="407.60" x2="96.00" y2="407.60" stroke="#2e2e2e" stroke-width="1.6"/>
<line x1="67.90" y1="407.60" x2="67.90" y2="410.60" stroke="#2e2e2e" stroke-width="1"/>
<line x1="84.70" y1="407.60" x2="84.70" y2="410.60" stroke="#2e2e2e" stroke-width="1"/>
<text transform="translate(36.20,363.10) rotate(-90)" font-size="9.2" fill="#2a2a2a" stroke="#2a2a2a" stroke-width="0.1" text-anchor="middle" textLength="83.3" lengthAdjust="spacingAndGlyphs">Fold change of pStat5 level</text>
<text transform="translate(69.20,416.80) rotate(-45) scale(0.97,1)" font-size="7.1" fill="#333" stroke="#333" stroke-width="0.1" text-anchor="end">AA/PBS</text>
<text transform="translate(86.00,416.80) rotate(-45) scale(0.97,1)" font-size="7.1" fill="#333" stroke="#333" stroke-width="0.1" text-anchor="end">AA/IFNα</text>
<line x1="68.70" y1="338.30" x2="85.20" y2="338.30" stroke="#333" stroke-width="1.1"/>
<text x="76.95" y="336.50" font-size="6.6" fill="#333" stroke="#333" stroke-width="0.1" text-anchor="middle">N.S.</text>
<text x="160.50" y="312.80" font-size="9.1" fill="#222" stroke="#222" stroke-width="0.1" text-anchor="middle" textLength="25.9" lengthAdjust="spacingAndGlyphs">CFU-E</text>
<rect x="147.10" y="351.09" width="9.20" height="56.51" fill="#8895C0"/>
<rect x="163.90" y="366.66" width="9.00" height="40.94" fill="#E5877A"/>
<line x1="151.70" y1="351.09" x2="151.70" y2="345.50" stroke="#4a6098" stroke-width="0.9"/>
<line x1="150.10" y1="345.50" x2="153.30" y2="345.50" stroke="#4a6098" stroke-width="0.9"/>
<line x1="168.40" y1="366.66" x2="168.40" y2="363.80" stroke="#c84f5e" stroke-width="0.9"/>
<line x1="166.80" y1="363.80" x2="170.00" y2="363.80" stroke="#c84f5e" stroke-width="0.9"/>
<circle cx="152.10" cy="345.90" r="1.65" fill="#fff" fill-opacity="0.6" stroke="#22366a" stroke-width="1.3"/>
<circle cx="152.10" cy="349.50" r="1.65" fill="#fff" fill-opacity="0.6" stroke="#22366a" stroke-width="1.3"/>
<circle cx="152.10" cy="354.50" r="1.65" fill="#fff" fill-opacity="0.6" stroke="#22366a" stroke-width="1.3"/>
<circle cx="164.80" cy="368.50" r="1.65" fill="#fff" fill-opacity="0.6" stroke="#6a1e22" stroke-width="1.3"/>
<circle cx="168.10" cy="364.00" r="1.65" fill="#fff" fill-opacity="0.6" stroke="#6a1e22" stroke-width="1.3"/>
<circle cx="172.20" cy="365.70" r="1.65" fill="#fff" fill-opacity="0.6" stroke="#6a1e22" stroke-width="1.3"/>
<line x1="140.50" y1="318.80" x2="140.50" y2="408.40" stroke="#2e2e2e" stroke-width="1.6"/>
<line x1="137.50" y1="407.60" x2="140.50" y2="407.60" stroke="#2e2e2e" stroke-width="1"/>
<text transform="translate(134.20,410.52) rotate(0) scale(0.76,1)" font-size="8.6" fill="#333" stroke="#333" stroke-width="0.12" text-anchor="end">0</text>
<line x1="137.50" y1="378.77" x2="140.50" y2="378.77" stroke="#2e2e2e" stroke-width="1"/>
<text transform="translate(134.20,381.69) rotate(0) scale(0.76,1)" font-size="8.6" fill="#333" stroke="#333" stroke-width="0.12" text-anchor="end">0.5</text>
<line x1="137.50" y1="349.93" x2="140.50" y2="349.93" stroke="#2e2e2e" stroke-width="1"/>
<text transform="translate(134.20,352.86) rotate(0) scale(0.76,1)" font-size="8.6" fill="#333" stroke="#333" stroke-width="0.12" text-anchor="end">1.0</text>
<line x1="137.50" y1="321.10" x2="140.50" y2="321.10" stroke="#2e2e2e" stroke-width="1"/>
<text transform="translate(134.20,324.02) rotate(0) scale(0.76,1)" font-size="8.6" fill="#333" stroke="#333" stroke-width="0.12" text-anchor="end">1.5</text>
<line x1="139.70" y1="407.60" x2="179.30" y2="407.60" stroke="#2e2e2e" stroke-width="1.6"/>
<line x1="151.70" y1="407.60" x2="151.70" y2="410.60" stroke="#2e2e2e" stroke-width="1"/>
<line x1="168.40" y1="407.60" x2="168.40" y2="410.60" stroke="#2e2e2e" stroke-width="1"/>
<text transform="translate(119.50,363.10) rotate(-90)" font-size="9.2" fill="#2a2a2a" stroke="#2a2a2a" stroke-width="0.1" text-anchor="middle" textLength="83.3" lengthAdjust="spacingAndGlyphs">Fold change of pStat5 level</text>
<text transform="translate(153.00,416.80) rotate(-45) scale(0.97,1)" font-size="7.1" fill="#333" stroke="#333" stroke-width="0.1" text-anchor="end">AA/PBS</text>
<text transform="translate(169.70,416.80) rotate(-45) scale(0.97,1)" font-size="7.1" fill="#333" stroke="#333" stroke-width="0.1" text-anchor="end">AA/IFNα</text>
<line x1="152.10" y1="340.40" x2="169.10" y2="340.40" stroke="#333" stroke-width="1.1"/>
<text x="160.60" y="340.85" font-size="7.7" fill="#333" stroke="#333" stroke-width="0.25" text-anchor="middle">**</text>
<text x="244.50" y="312.80" font-size="9.1" fill="#222" stroke="#222" stroke-width="0.1" text-anchor="middle" textLength="13.1" lengthAdjust="spacingAndGlyphs">Pro</text>
<rect x="230.80" y="352.82" width="9.20" height="54.78" fill="#8895C0"/>
<rect x="247.80" y="368.39" width="9.00" height="39.21" fill="#E5877A"/>
<line x1="235.40" y1="352.82" x2="235.40" y2="347.90" stroke="#4a6098" stroke-width="0.9"/>
<line x1="233.80" y1="347.90" x2="237.00" y2="347.90" stroke="#4a6098" stroke-width="0.9"/>
<line x1="252.30" y1="368.39" x2="252.30" y2="365.50" stroke="#c84f5e" stroke-width="0.9"/>
<line x1="250.70" y1="365.50" x2="253.90" y2="365.50" stroke="#c84f5e" stroke-width="0.9"/>
<circle cx="232.10" cy="353.10" r="1.65" fill="#fff" fill-opacity="0.6" stroke="#22366a" stroke-width="1.3"/>
<circle cx="235.90" cy="344.20" r="1.65" fill="#fff" fill-opacity="0.6" stroke="#22366a" stroke-width="1.3"/>
<circle cx="239.50" cy="353.10" r="1.65" fill="#fff" fill-opacity="0.6" stroke="#22366a" stroke-width="1.3"/>
<circle cx="248.60" cy="371.30" r="1.65" fill="#fff" fill-opacity="0.6" stroke="#6a1e22" stroke-width="1.3"/>
<circle cx="252.20" cy="364.00" r="1.65" fill="#fff" fill-opacity="0.6" stroke="#6a1e22" stroke-width="1.3"/>
<circle cx="256.30" cy="367.70" r="1.65" fill="#fff" fill-opacity="0.6" stroke="#6a1e22" stroke-width="1.3"/>
<line x1="224.30" y1="318.80" x2="224.30" y2="408.40" stroke="#2e2e2e" stroke-width="1.6"/>
<line x1="221.30" y1="407.60" x2="224.30" y2="407.60" stroke="#2e2e2e" stroke-width="1"/>
<text transform="translate(218.00,410.52) rotate(0) scale(0.76,1)" font-size="8.6" fill="#333" stroke="#333" stroke-width="0.12" text-anchor="end">0</text>
<line x1="221.30" y1="378.77" x2="224.30" y2="378.77" stroke="#2e2e2e" stroke-width="1"/>
<text transform="translate(218.00,381.69) rotate(0) scale(0.76,1)" font-size="8.6" fill="#333" stroke="#333" stroke-width="0.12" text-anchor="end">0.5</text>
<line x1="221.30" y1="349.93" x2="224.30" y2="349.93" stroke="#2e2e2e" stroke-width="1"/>
<text transform="translate(218.00,352.86) rotate(0) scale(0.76,1)" font-size="8.6" fill="#333" stroke="#333" stroke-width="0.12" text-anchor="end">1.0</text>
<line x1="221.30" y1="321.10" x2="224.30" y2="321.10" stroke="#2e2e2e" stroke-width="1"/>
<text transform="translate(218.00,324.02) rotate(0) scale(0.76,1)" font-size="8.6" fill="#333" stroke="#333" stroke-width="0.12" text-anchor="end">1.5</text>
<line x1="223.50" y1="407.60" x2="263.40" y2="407.60" stroke="#2e2e2e" stroke-width="1.6"/>
<line x1="235.40" y1="407.60" x2="235.40" y2="410.60" stroke="#2e2e2e" stroke-width="1"/>
<line x1="252.30" y1="407.60" x2="252.30" y2="410.60" stroke="#2e2e2e" stroke-width="1"/>
<text transform="translate(202.80,363.10) rotate(-90)" font-size="9.2" fill="#2a2a2a" stroke="#2a2a2a" stroke-width="0.1" text-anchor="middle" textLength="83.3" lengthAdjust="spacingAndGlyphs">Fold change of pStat5 level</text>
<text transform="translate(236.70,416.80) rotate(-45) scale(0.97,1)" font-size="7.1" fill="#333" stroke="#333" stroke-width="0.1" text-anchor="end">AA/PBS</text>
<text transform="translate(253.60,416.80) rotate(-45) scale(0.97,1)" font-size="7.1" fill="#333" stroke="#333" stroke-width="0.1" text-anchor="end">AA/IFNα</text>
<line x1="236.20" y1="339.10" x2="253.00" y2="339.10" stroke="#333" stroke-width="1.1"/>
<text x="244.60" y="339.55" font-size="7.7" fill="#333" stroke="#333" stroke-width="0.25" text-anchor="middle">**</text>
<text x="328.20" y="312.80" font-size="9.1" fill="#222" stroke="#222" stroke-width="0.1" text-anchor="middle" textLength="19" lengthAdjust="spacingAndGlyphs">Baso</text>
<rect x="314.80" y="352.24" width="9.20" height="55.36" fill="#8895C0"/>
<rect x="331.60" y="364.35" width="9.00" height="43.25" fill="#E5877A"/>
<line x1="319.40" y1="352.24" x2="319.40" y2="348.00" stroke="#4a6098" stroke-width="0.9"/>
<line x1="317.80" y1="348.00" x2="321.00" y2="348.00" stroke="#4a6098" stroke-width="0.9"/>
<line x1="336.10" y1="364.35" x2="336.10" y2="361.00" stroke="#c84f5e" stroke-width="0.9"/>
<line x1="334.50" y1="361.00" x2="337.70" y2="361.00" stroke="#c84f5e" stroke-width="0.9"/>
<circle cx="315.90" cy="352.80" r="1.65" fill="#fff" fill-opacity="0.6" stroke="#22366a" stroke-width="1.3"/>
<circle cx="319.50" cy="346.20" r="1.65" fill="#fff" fill-opacity="0.6" stroke="#22366a" stroke-width="1.3"/>
<circle cx="323.10" cy="351.50" r="1.65" fill="#fff" fill-opacity="0.6" stroke="#22366a" stroke-width="1.3"/>
<circle cx="336.00" cy="358.60" r="1.65" fill="#fff" fill-opacity="0.6" stroke="#6a1e22" stroke-width="1.3"/>
<circle cx="336.00" cy="362.40" r="1.65" fill="#fff" fill-opacity="0.6" stroke="#6a1e22" stroke-width="1.3"/>
<circle cx="336.00" cy="367.70" r="1.65" fill="#fff" fill-opacity="0.6" stroke="#6a1e22" stroke-width="1.3"/>
<line x1="308.40" y1="318.80" x2="308.40" y2="408.40" stroke="#2e2e2e" stroke-width="1.6"/>
<line x1="305.40" y1="407.60" x2="308.40" y2="407.60" stroke="#2e2e2e" stroke-width="1"/>
<text transform="translate(302.10,410.52) rotate(0) scale(0.76,1)" font-size="8.6" fill="#333" stroke="#333" stroke-width="0.12" text-anchor="end">0</text>
<line x1="305.40" y1="378.77" x2="308.40" y2="378.77" stroke="#2e2e2e" stroke-width="1"/>
<text transform="translate(302.10,381.69) rotate(0) scale(0.76,1)" font-size="8.6" fill="#333" stroke="#333" stroke-width="0.12" text-anchor="end">0.5</text>
<line x1="305.40" y1="349.93" x2="308.40" y2="349.93" stroke="#2e2e2e" stroke-width="1"/>
<text transform="translate(302.10,352.86) rotate(0) scale(0.76,1)" font-size="8.6" fill="#333" stroke="#333" stroke-width="0.12" text-anchor="end">1.0</text>
<line x1="305.40" y1="321.10" x2="308.40" y2="321.10" stroke="#2e2e2e" stroke-width="1"/>
<text transform="translate(302.10,324.02) rotate(0) scale(0.76,1)" font-size="8.6" fill="#333" stroke="#333" stroke-width="0.12" text-anchor="end">1.5</text>
<line x1="307.60" y1="407.60" x2="347.60" y2="407.60" stroke="#2e2e2e" stroke-width="1.6"/>
<line x1="319.40" y1="407.60" x2="319.40" y2="410.60" stroke="#2e2e2e" stroke-width="1"/>
<line x1="336.10" y1="407.60" x2="336.10" y2="410.60" stroke="#2e2e2e" stroke-width="1"/>
<text transform="translate(287.80,363.10) rotate(-90)" font-size="9.2" fill="#2a2a2a" stroke="#2a2a2a" stroke-width="0.1" text-anchor="middle" textLength="83.3" lengthAdjust="spacingAndGlyphs">Fold change of pStat5 level</text>
<text transform="translate(320.70,416.80) rotate(-45) scale(0.97,1)" font-size="7.1" fill="#333" stroke="#333" stroke-width="0.1" text-anchor="end">AA/PBS</text>
<text transform="translate(337.40,416.80) rotate(-45) scale(0.97,1)" font-size="7.1" fill="#333" stroke="#333" stroke-width="0.1" text-anchor="end">AA/IFNα</text>
<line x1="320.30" y1="341.30" x2="337.30" y2="341.30" stroke="#333" stroke-width="1.1"/>
<text x="328.80" y="341.75" font-size="7.7" fill="#333" stroke="#333" stroke-width="0.25" text-anchor="middle">*</text>
<text x="364.50" y="313.30" font-size="12.5" fill="#111" stroke="#111" stroke-width="0.35" font-weight="bold">H</text>
<text x="380.00" y="333.00" font-size="7.6" fill="#333" stroke="#333" stroke-width="0.1" textLength="13.1" lengthAdjust="spacingAndGlyphs">EPO</text>
<text x="375.80" y="340.30" font-size="7.2" fill="#333" stroke="#333" stroke-width="0.1" textLength="20.4" lengthAdjust="spacingAndGlyphs">(U/mL)</text>
<line x1="401.00" y1="337.40" x2="415.97" y2="337.40" stroke="#444" stroke-width="1.1"/>
<text x="408.49" y="335.00" font-size="7.6" fill="#333" stroke="#333" stroke-width="0.1" text-anchor="middle">0</text>
<line x1="426.94" y1="337.40" x2="441.91" y2="337.40" stroke="#444" stroke-width="1.1"/>
<text x="434.43" y="335.00" font-size="7.6" fill="#333" stroke="#333" stroke-width="0.1" text-anchor="middle">1</text>
<line x1="452.88" y1="337.40" x2="467.85" y2="337.40" stroke="#444" stroke-width="1.1"/>
<text x="460.37" y="335.00" font-size="7.6" fill="#333" stroke="#333" stroke-width="0.1" text-anchor="middle">3</text>
<line x1="478.82" y1="337.40" x2="493.79" y2="337.40" stroke="#444" stroke-width="1.1"/>
<text x="486.31" y="335.00" font-size="7.6" fill="#333" stroke="#333" stroke-width="0.1" text-anchor="middle">10</text>
<text transform="translate(403.90,367.70) rotate(-90)" font-size="6.9" fill="#333" stroke="#333" stroke-width="0.1" textLength="23.9" lengthAdjust="spacingAndGlyphs">AA/PBS</text>
<text transform="translate(416.87,367.70) rotate(-90)" font-size="6.9" fill="#333" stroke="#333" stroke-width="0.1" textLength="26.2" lengthAdjust="spacingAndGlyphs">AA/IFNα</text>
<text transform="translate(429.84,367.70) rotate(-90)" font-size="6.9" fill="#333" stroke="#333" stroke-width="0.1" textLength="23.9" lengthAdjust="spacingAndGlyphs">AA/PBS</text>
<text transform="translate(442.81,367.70) rotate(-90)" font-size="6.9" fill="#333" stroke="#333" stroke-width="0.1" textLength="26.2" lengthAdjust="spacingAndGlyphs">AA/IFNα</text>
<text transform="translate(455.78,367.70) rotate(-90)" font-size="6.9" fill="#333" stroke="#333" stroke-width="0.1" textLength="23.9" lengthAdjust="spacingAndGlyphs">AA/PBS</text>
<text transform="translate(468.75,367.70) rotate(-90)" font-size="6.9" fill="#333" stroke="#333" stroke-width="0.1" textLength="26.2" lengthAdjust="spacingAndGlyphs">AA/IFNα</text>
<text transform="translate(481.72,367.70) rotate(-90)" font-size="6.9" fill="#333" stroke="#333" stroke-width="0.1" textLength="23.9" lengthAdjust="spacingAndGlyphs">AA/PBS</text>
<text transform="translate(494.69,367.70) rotate(-90)" font-size="6.9" fill="#333" stroke="#333" stroke-width="0.1" textLength="26.2" lengthAdjust="spacingAndGlyphs">AA/IFNα</text>
<rect x="395.80" y="371.30" width="103.40" height="12.80" fill="#f6f6f6" stroke="#606060" stroke-width="0.9"/>
<rect x="395.80" y="386.20" width="103.40" height="13.00" fill="#ebebeb" stroke="#606060" stroke-width="0.9"/>
<rect x="396.20" y="388.60" width="10.60" height="2.20" rx="1.10" fill="#8a8a8a" opacity="1.0" filter="url(#b4)"/>
<rect x="396.20" y="393.75" width="10.60" height="2.50" rx="1.25" fill="#8a8a8a" opacity="1.0" filter="url(#b4)"/>
<rect x="409.17" y="388.60" width="10.60" height="2.20" rx="1.10" fill="#aaaaaa" opacity="1.0" filter="url(#b4)"/>
<rect x="409.17" y="393.75" width="10.60" height="2.50" rx="1.25" fill="#9a9a9a" opacity="1.0" filter="url(#b4)"/>
<rect x="422.24" y="375.00" width="10.40" height="2.00" rx="1.00" fill="#dcdcdc" opacity="1.0" filter="url(#b4)"/>
<rect x="422.24" y="379.20" width="10.40" height="2.20" rx="1.10" fill="#acacac" opacity="1.0" filter="url(#b4)"/>
<rect x="422.14" y="388.60" width="10.60" height="2.20" rx="1.10" fill="#686868" opacity="1.0" filter="url(#b4)"/>
<rect x="422.14" y="393.75" width="10.60" height="2.50" rx="1.25" fill="#363636" opacity="1.0" filter="url(#b4)"/>
<rect x="435.21" y="375.00" width="10.40" height="2.00" rx="1.00" fill="#dedede" opacity="1.0" filter="url(#b4)"/>
<rect x="435.21" y="379.20" width="10.40" height="2.20" rx="1.10" fill="#bcbcbc" opacity="1.0" filter="url(#b4)"/>
<rect x="435.11" y="388.60" width="10.60" height="2.20" rx="1.10" fill="#464646" opacity="1.0" filter="url(#b4)"/>
<rect x="435.11" y="393.75" width="10.60" height="2.50" rx="1.25" fill="#060606" opacity="1.0" filter="url(#b4)"/>
<rect x="448.18" y="375.00" width="10.40" height="2.00" rx="1.00" fill="#bdbdbd" opacity="1.0" filter="url(#b4)"/>
<rect x="448.18" y="379.20" width="10.40" height="2.20" rx="1.10" fill="#7a7a7a" opacity="1.0" filter="url(#b4)"/>
<rect x="448.08" y="388.60" width="10.60" height="2.20" rx="1.10" fill="#a8a8a8" opacity="1.0" filter="url(#b4)"/>
<rect x="448.08" y="393.75" width="10.60" height="2.50" rx="1.25" fill="#686868" opacity="1.0" filter="url(#b4)"/>
<rect x="461.15" y="375.00" width="10.40" height="2.00" rx="1.00" fill="#bcbcbc" opacity="1.0" filter="url(#b4)"/>
<rect x="461.15" y="379.20" width="10.40" height="2.20" rx="1.10" fill="#888888" opacity="1.0" filter="url(#b4)"/>
<rect x="461.05" y="388.60" width="10.60" height="2.20" rx="1.10" fill="#363636" opacity="1.0" filter="url(#b4)"/>
<rect x="461.05" y="393.75" width="10.60" height="2.50" rx="1.25" fill="#060606" opacity="1.0" filter="url(#b4)"/>
<rect x="474.12" y="375.00" width="10.40" height="2.00" rx="1.00" fill="#9a9a9a" opacity="1.0" filter="url(#b4)"/>
<rect x="474.12" y="379.20" width="10.40" height="2.20" rx="1.10" fill="#151515" opacity="1.0" filter="url(#b4)"/>
<rect x="474.02" y="388.60" width="10.60" height="2.20" rx="1.10" fill="#acacac" opacity="1.0" filter="url(#b4)"/>
<rect x="474.02" y="393.75" width="10.60" height="2.50" rx="1.25" fill="#7a7a7a" opacity="1.0" filter="url(#b4)"/>
<rect x="487.09" y="375.00" width="10.40" height="2.00" rx="1.00" fill="#cccccc" opacity="1.0" filter="url(#b4)"/>
<rect x="487.09" y="379.20" width="10.40" height="2.20" rx="1.10" fill="#585858" opacity="1.0" filter="url(#b4)"/>
<rect x="486.99" y="388.60" width="10.60" height="2.20" rx="1.10" fill="#8a8a8a" opacity="1.0" filter="url(#b4)"/>
<rect x="486.99" y="393.75" width="10.60" height="2.50" rx="1.25" fill="#363636" opacity="1.0" filter="url(#b4)"/>
<text x="392.30" y="380.30" font-size="7.6" fill="#333" stroke="#333" stroke-width="0.1" text-anchor="end" textLength="13.8" lengthAdjust="spacingAndGlyphs">pErk</text>
<text x="392.30" y="394.90" font-size="7.6" fill="#333" stroke="#333" stroke-width="0.1" text-anchor="end" textLength="9.4" lengthAdjust="spacingAndGlyphs">Erk</text>
<line x1="499.20" y1="373.60" x2="501.80" y2="373.60" stroke="#333" stroke-width="1.0"/>
<text x="506.00" y="376.19" font-size="7.2" fill="#333" stroke="#333" stroke-width="0.1">55</text>
<line x1="499.20" y1="387.40" x2="501.80" y2="387.40" stroke="#333" stroke-width="1.0"/>
<text x="506.00" y="389.99" font-size="7.2" fill="#333" stroke="#333" stroke-width="0.1">55</text>
<text x="7.30" y="456.50" font-size="12.5" fill="#111" stroke="#111" stroke-width="0.35" font-weight="bold">I</text>
<line x1="56.90" y1="460.50" x2="56.90" y2="550.10" stroke="#2e2e2e" stroke-width="1.6"/>
<line x1="53.90" y1="549.30" x2="56.90" y2="549.30" stroke="#2e2e2e" stroke-width="1"/>
<text transform="translate(50.60,552.22) rotate(0) scale(0.76,1)" font-size="8.6" fill="#333" stroke="#333" stroke-width="0.12" text-anchor="end">0</text>
<line x1="53.90" y1="532.00" x2="56.90" y2="532.00" stroke="#2e2e2e" stroke-width="1"/>
<text transform="translate(50.60,534.92) rotate(0) scale(0.76,1)" font-size="8.6" fill="#333" stroke="#333" stroke-width="0.12" text-anchor="end">1</text>
<line x1="53.90" y1="514.70" x2="56.90" y2="514.70" stroke="#2e2e2e" stroke-width="1"/>
<text transform="translate(50.60,517.62) rotate(0) scale(0.76,1)" font-size="8.6" fill="#333" stroke="#333" stroke-width="0.12" text-anchor="end">2</text>
<line x1="53.90" y1="497.40" x2="56.90" y2="497.40" stroke="#2e2e2e" stroke-width="1"/>
<text transform="translate(50.60,500.32) rotate(0) scale(0.76,1)" font-size="8.6" fill="#333" stroke="#333" stroke-width="0.12" text-anchor="end">3</text>
<line x1="53.90" y1="480.10" x2="56.90" y2="480.10" stroke="#2e2e2e" stroke-width="1"/>
<text transform="translate(50.60,483.02) rotate(0) scale(0.76,1)" font-size="8.6" fill="#333" stroke="#333" stroke-width="0.12" text-anchor="end">4</text>
<line x1="53.90" y1="462.80" x2="56.90" y2="462.80" stroke="#2e2e2e" stroke-width="1"/>
<text transform="translate(50.60,465.72) rotate(0) scale(0.76,1)" font-size="8.6" fill="#333" stroke="#333" stroke-width="0.12" text-anchor="end">5</text>
<rect x="92.55" y="532.00" width="6.30" height="17.30" fill="#8895C0"/>
<rect x="104.00" y="540.65" width="6.60" height="8.65" fill="#E5877A"/>
<rect x="123.95" y="510.72" width="6.30" height="38.58" fill="#8895C0"/>
<rect x="135.40" y="529.06" width="6.60" height="20.24" fill="#E5877A"/>
<rect x="155.05" y="483.91" width="6.30" height="65.39" fill="#8895C0"/>
<rect x="166.50" y="520.41" width="6.60" height="28.89" fill="#E5877A"/>
<line x1="107.30" y1="540.65" x2="107.30" y2="538.60" stroke="#c84f5e" stroke-width="0.9"/>
<line x1="105.80" y1="538.60" x2="108.80" y2="538.60" stroke="#c84f5e" stroke-width="0.9"/>
<line x1="127.10" y1="510.72" x2="127.10" y2="502.10" stroke="#4a6098" stroke-width="0.9"/>
<line x1="125.60" y1="502.10" x2="128.60" y2="502.10" stroke="#4a6098" stroke-width="0.9"/>
<line x1="138.70" y1="529.06" x2="138.70" y2="522.50" stroke="#c84f5e" stroke-width="0.9"/>
<line x1="137.20" y1="522.50" x2="140.20" y2="522.50" stroke="#c84f5e" stroke-width="0.9"/>
<line x1="158.20" y1="483.91" x2="158.20" y2="471.90" stroke="#4a6098" stroke-width="0.9"/>
<line x1="156.70" y1="471.90" x2="159.70" y2="471.90" stroke="#4a6098" stroke-width="0.9"/>
<line x1="169.80" y1="520.41" x2="169.80" y2="514.50" stroke="#c84f5e" stroke-width="0.9"/>
<line x1="168.30" y1="514.50" x2="171.30" y2="514.50" stroke="#c84f5e" stroke-width="0.9"/>
<line x1="56.10" y1="549.30" x2="174.50" y2="549.30" stroke="#2e2e2e" stroke-width="1.6"/>
<line x1="70.60" y1="549.30" x2="70.60" y2="552.30" stroke="#2e2e2e" stroke-width="1"/>
<line x1="101.50" y1="549.30" x2="101.50" y2="552.30" stroke="#2e2e2e" stroke-width="1"/>
<line x1="132.90" y1="549.30" x2="132.90" y2="552.30" stroke="#2e2e2e" stroke-width="1"/>
<line x1="164.00" y1="549.30" x2="164.00" y2="552.30" stroke="#2e2e2e" stroke-width="1"/>
<circle cx="62.00" cy="549.30" r="1.65" fill="#fff" fill-opacity="0.6" stroke="#22366a" stroke-width="1.3"/>
<circle cx="64.60" cy="549.30" r="1.65" fill="#fff" fill-opacity="0.6" stroke="#22366a" stroke-width="1.3"/>
<circle cx="67.10" cy="549.30" r="1.65" fill="#fff" fill-opacity="0.6" stroke="#22366a" stroke-width="1.3"/>
<circle cx="93.10" cy="531.90" r="1.65" fill="#fff" fill-opacity="0.6" stroke="#22366a" stroke-width="1.3"/>
<circle cx="95.40" cy="531.90" r="1.65" fill="#fff" fill-opacity="0.6" stroke="#22366a" stroke-width="1.3"/>
<circle cx="97.90" cy="531.90" r="1.65" fill="#fff" fill-opacity="0.6" stroke="#22366a" stroke-width="1.3"/>
<circle cx="126.50" cy="503.50" r="1.65" fill="#fff" fill-opacity="0.6" stroke="#22366a" stroke-width="1.3"/>
<circle cx="126.50" cy="509.80" r="1.65" fill="#fff" fill-opacity="0.6" stroke="#22366a" stroke-width="1.3"/>
<circle cx="126.50" cy="513.70" r="1.65" fill="#fff" fill-opacity="0.6" stroke="#22366a" stroke-width="1.3"/>
<circle cx="157.90" cy="471.90" r="1.65" fill="#fff" fill-opacity="0.6" stroke="#22366a" stroke-width="1.3"/>
<circle cx="157.90" cy="483.80" r="1.65" fill="#fff" fill-opacity="0.6" stroke="#22366a" stroke-width="1.3"/>
<circle cx="157.90" cy="488.70" r="1.65" fill="#fff" fill-opacity="0.6" stroke="#22366a" stroke-width="1.3"/>
<circle cx="74.50" cy="549.30" r="1.65" fill="#fff" fill-opacity="0.6" stroke="#6a1e22" stroke-width="1.3"/>
<circle cx="76.70" cy="549.30" r="1.65" fill="#fff" fill-opacity="0.6" stroke="#6a1e22" stroke-width="1.3"/>
<circle cx="79.20" cy="549.30" r="1.65" fill="#fff" fill-opacity="0.6" stroke="#6a1e22" stroke-width="1.3"/>
<circle cx="105.00" cy="540.00" r="1.65" fill="#fff" fill-opacity="0.6" stroke="#6a1e22" stroke-width="1.3"/>
<circle cx="107.90" cy="539.00" r="1.65" fill="#fff" fill-opacity="0.6" stroke="#6a1e22" stroke-width="1.3"/>
<circle cx="110.40" cy="539.60" r="1.65" fill="#fff" fill-opacity="0.6" stroke="#6a1e22" stroke-width="1.3"/>
<circle cx="138.70" cy="523.30" r="1.65" fill="#fff" fill-opacity="0.6" stroke="#6a1e22" stroke-width="1.3"/>
<circle cx="136.20" cy="527.70" r="1.65" fill="#fff" fill-opacity="0.6" stroke="#6a1e22" stroke-width="1.3"/>
<circle cx="141.20" cy="527.10" r="1.65" fill="#fff" fill-opacity="0.6" stroke="#6a1e22" stroke-width="1.3"/>
<circle cx="170.00" cy="513.70" r="1.65" fill="#fff" fill-opacity="0.6" stroke="#6a1e22" stroke-width="1.3"/>
<circle cx="167.50" cy="520.40" r="1.65" fill="#fff" fill-opacity="0.6" stroke="#6a1e22" stroke-width="1.3"/>
<circle cx="172.70" cy="519.00" r="1.65" fill="#fff" fill-opacity="0.6" stroke="#6a1e22" stroke-width="1.3"/>
<text transform="translate(70.60,562.30) rotate(0) scale(0.82,1)" font-size="8.4" fill="#333" stroke="#333" stroke-width="0.1" text-anchor="middle">0</text>
<text transform="translate(101.50,562.30) rotate(0) scale(0.82,1)" font-size="8.4" fill="#333" stroke="#333" stroke-width="0.1" text-anchor="middle">1</text>
<text transform="translate(132.90,562.30) rotate(0) scale(0.82,1)" font-size="8.4" fill="#333" stroke="#333" stroke-width="0.1" text-anchor="middle">3</text>
<text transform="translate(164.00,562.30) rotate(0) scale(0.82,1)" font-size="8.4" fill="#333" stroke="#333" stroke-width="0.1" text-anchor="middle">10</text>
<text x="117.60" y="574.00" font-size="9" fill="#333" stroke="#333" stroke-width="0.1" text-anchor="middle" textLength="36" lengthAdjust="spacingAndGlyphs">EPO (U/mL)</text>
<text transform="translate(41.20,504.70) rotate(-90)" font-size="9.2" fill="#2a2a2a" stroke="#2a2a2a" stroke-width="0.1" text-anchor="middle" textLength="77" lengthAdjust="spacingAndGlyphs">Fold change of pErk level</text>
<rect x="63.30" y="465.70" width="6.50" height="6.30" fill="#8895C0"/>
<rect x="63.30" y="478.30" width="6.50" height="6.30" fill="#E5877A"/>
<text x="72.80" y="471.80" font-size="8.2" fill="#333" stroke="#333" stroke-width="0.1" textLength="27.6" lengthAdjust="spacingAndGlyphs">AA/PBS</text>
<text x="72.80" y="484.30" font-size="8.2" fill="#333" stroke="#333" stroke-width="0.1" textLength="31.1" lengthAdjust="spacingAndGlyphs">AA/IFNα</text>
<line x1="97.30" y1="528.10" x2="107.90" y2="528.10" stroke="#333" stroke-width="1.1"/>
<text x="102.60" y="528.55" font-size="7.7" fill="#333" stroke="#333" stroke-width="0.25" text-anchor="middle">***</text>
<line x1="127.70" y1="498.30" x2="139.60" y2="498.30" stroke="#333" stroke-width="1.1"/>
<text x="133.65" y="498.75" font-size="7.7" fill="#333" stroke="#333" stroke-width="0.25" text-anchor="middle">**</text>
<line x1="158.80" y1="466.50" x2="169.40" y2="466.50" stroke="#333" stroke-width="1.1"/>
<text x="164.10" y="466.95" font-size="7.7" fill="#333" stroke="#333" stroke-width="0.25" text-anchor="middle">**</text>
<text x="194.40" y="457.00" font-size="12.5" fill="#111" stroke="#111" stroke-width="0.35" font-weight="bold">J</text>
<text x="240.00" y="490.30" font-size="7.4" fill="#333" stroke="#333" stroke-width="0.1" text-anchor="end" textLength="36" lengthAdjust="spacingAndGlyphs">IFNα (U/mL)</text>
<text x="240.00" y="502.20" font-size="7.4" fill="#333" stroke="#333" stroke-width="0.1" text-anchor="end" textLength="35" lengthAdjust="spacingAndGlyphs">EPO (U/mL)</text>
<text x="240.00" y="512.80" font-size="7.4" fill="#333" stroke="#333" stroke-width="0.1" text-anchor="end" textLength="19.6" lengthAdjust="spacingAndGlyphs">pStat5</text>
<text x="240.00" y="523.80" font-size="7.4" fill="#333" stroke="#333" stroke-width="0.1" text-anchor="end" textLength="15.4" lengthAdjust="spacingAndGlyphs">Stat5</text>
<text x="250.00" y="490.50" font-size="7.4" fill="#333" stroke="#333" stroke-width="0.1" text-anchor="middle">0</text>
<text x="263.57" y="490.50" font-size="7.4" fill="#333" stroke="#333" stroke-width="0.1" text-anchor="middle">1</text>
<text x="277.14" y="490.50" font-size="7.4" fill="#333" stroke="#333" stroke-width="0.1" text-anchor="middle">10</text>
<text x="290.71" y="490.50" font-size="7.4" fill="#333" stroke="#333" stroke-width="0.1" text-anchor="middle">100</text>
<text x="304.28" y="490.50" font-size="7.4" fill="#333" stroke="#333" stroke-width="0.1" text-anchor="middle">0</text>
<text x="317.85" y="490.50" font-size="7.4" fill="#333" stroke="#333" stroke-width="0.1" text-anchor="middle">1</text>
<text x="331.42" y="490.50" font-size="7.4" fill="#333" stroke="#333" stroke-width="0.1" text-anchor="middle">10</text>
<text x="344.99" y="490.50" font-size="7.4" fill="#333" stroke="#333" stroke-width="0.1" text-anchor="middle">100</text>
<line x1="249.50" y1="493.30" x2="293.00" y2="493.30" stroke="#444" stroke-width="1.1"/>
<line x1="302.00" y1="493.30" x2="348.80" y2="493.30" stroke="#444" stroke-width="1.1"/>
<text x="270.80" y="502.60" font-size="7.4" fill="#333" stroke="#333" stroke-width="0.1" text-anchor="middle">0</text>
<text x="323.80" y="502.60" font-size="7.4" fill="#333" stroke="#333" stroke-width="0.1" text-anchor="middle">1</text>
<defs><linearGradient id="gJ" x1="0" x2="0" y1="0" y2="1"><stop offset="0" stop-color="#f0f0f0"/><stop offset="0.6" stop-color="#e6e6e6"/><stop offset="1" stop-color="#c4c4c4"/></linearGradient></defs>
<rect x="243.80" y="505.70" width="107.50" height="9.90" fill="url(#gJ)" stroke="#606060" stroke-width="0.9"/>
<rect x="243.80" y="516.60" width="107.50" height="8.40" fill="#d4d4d4" stroke="#606060" stroke-width="0.9"/>
<rect x="299.28" y="510.10" width="10.00" height="2.60" rx="1.30" fill="#262626" opacity="1.0" filter="url(#b4)"/>
<rect x="312.85" y="510.10" width="10.00" height="2.60" rx="1.30" fill="#404040" opacity="1.0" filter="url(#b4)"/>
<rect x="326.42" y="510.10" width="10.00" height="2.60" rx="1.30" fill="#454545" opacity="1.0" filter="url(#b4)"/>
<rect x="339.99" y="509.50" width="10.00" height="2.60" rx="1.30" fill="#7a7a7a" opacity="1.0" filter="url(#b4)"/>
<rect x="244.80" y="519.60" width="10.40" height="2.80" rx="1.40" fill="#151515" opacity="1.0" filter="url(#b4)"/>
<rect x="258.37" y="519.60" width="10.40" height="2.80" rx="1.40" fill="#151515" opacity="1.0" filter="url(#b4)"/>
<rect x="271.94" y="519.60" width="10.40" height="2.80" rx="1.40" fill="#151515" opacity="1.0" filter="url(#b4)"/>
<rect x="285.51" y="519.60" width="10.40" height="2.80" rx="1.40" fill="#151515" opacity="1.0" filter="url(#b4)"/>
<rect x="299.08" y="519.60" width="10.40" height="2.80" rx="1.40" fill="#151515" opacity="1.0" filter="url(#b4)"/>
<rect x="312.65" y="519.60" width="10.40" height="2.80" rx="1.40" fill="#151515" opacity="1.0" filter="url(#b4)"/>
<rect x="326.22" y="519.60" width="10.40" height="2.80" rx="1.40" fill="#151515" opacity="1.0" filter="url(#b4)"/>
<rect x="339.79" y="519.60" width="10.40" height="2.80" rx="1.40" fill="#151515" opacity="1.0" filter="url(#b4)"/>
<line x1="351.30" y1="509.20" x2="353.90" y2="509.20" stroke="#333" stroke-width="1.0"/>
<text x="356.30" y="511.79" font-size="7.2" fill="#333" stroke="#333" stroke-width="0.1">100</text>
<line x1="351.30" y1="519.20" x2="353.90" y2="519.20" stroke="#333" stroke-width="1.0"/>
<text x="356.30" y="521.79" font-size="7.2" fill="#333" stroke="#333" stroke-width="0.1">100</text>
<text x="384.40" y="457.30" font-size="12.5" fill="#111" stroke="#111" stroke-width="0.35" font-weight="bold">K</text>
<rect x="432.10" y="491.57" width="10.60" height="57.73" fill="#8895C0"/>
<rect x="450.90" y="506.58" width="10.60" height="42.72" fill="#E5877A"/>
<rect x="469.40" y="511.20" width="10.60" height="38.10" fill="#A9D18E"/>
<rect x="488.20" y="517.55" width="10.60" height="31.75" fill="#A98BC0"/>
<line x1="456.20" y1="506.58" x2="456.20" y2="500.30" stroke="#c84f5e" stroke-width="0.9"/>
<line x1="454.40" y1="500.30" x2="458.00" y2="500.30" stroke="#c84f5e" stroke-width="0.9"/>
<line x1="474.70" y1="511.20" x2="474.70" y2="507.30" stroke="#5f9a4a" stroke-width="0.9"/>
<line x1="472.90" y1="507.30" x2="476.50" y2="507.30" stroke="#5f9a4a" stroke-width="0.9"/>
<line x1="493.50" y1="517.55" x2="493.50" y2="511.90" stroke="#6e4e90" stroke-width="0.9"/>
<line x1="491.70" y1="511.90" x2="495.30" y2="511.90" stroke="#6e4e90" stroke-width="0.9"/>
<circle cx="433.60" cy="492.00" r="1.65" fill="#fff" fill-opacity="0.6" stroke="#2a3050" stroke-width="1.3"/>
<circle cx="437.70" cy="492.00" r="1.65" fill="#fff" fill-opacity="0.6" stroke="#2a3050" stroke-width="1.3"/>
<circle cx="441.90" cy="492.00" r="1.65" fill="#fff" fill-opacity="0.6" stroke="#2a3050" stroke-width="1.3"/>
<circle cx="456.20" cy="498.50" r="1.65" fill="#fff" fill-opacity="0.6" stroke="#4a2628" stroke-width="1.3"/>
<circle cx="456.20" cy="505.40" r="1.65" fill="#fff" fill-opacity="0.6" stroke="#4a2628" stroke-width="1.3"/>
<circle cx="456.20" cy="513.50" r="1.65" fill="#fff" fill-opacity="0.6" stroke="#4a2628" stroke-width="1.3"/>
<circle cx="474.70" cy="505.00" r="1.65" fill="#fff" fill-opacity="0.6" stroke="#34402f" stroke-width="1.3"/>
<circle cx="474.70" cy="511.20" r="1.65" fill="#fff" fill-opacity="0.6" stroke="#34402f" stroke-width="1.3"/>
<circle cx="474.70" cy="515.80" r="1.65" fill="#fff" fill-opacity="0.6" stroke="#34402f" stroke-width="1.3"/>
<circle cx="493.20" cy="507.70" r="1.65" fill="#fff" fill-opacity="0.6" stroke="#3a3048" stroke-width="1.3"/>
<circle cx="493.20" cy="519.70" r="1.65" fill="#fff" fill-opacity="0.6" stroke="#3a3048" stroke-width="1.3"/>
<circle cx="493.20" cy="523.90" r="1.65" fill="#fff" fill-opacity="0.6" stroke="#3a3048" stroke-width="1.3"/>
<line x1="425.50" y1="460.50" x2="425.50" y2="550.10" stroke="#2e2e2e" stroke-width="1.6"/>
<line x1="422.50" y1="549.30" x2="425.50" y2="549.30" stroke="#2e2e2e" stroke-width="1"/>
<text transform="translate(419.20,552.22) rotate(0) scale(0.76,1)" font-size="8.6" fill="#333" stroke="#333" stroke-width="0.12" text-anchor="end">0</text>
<line x1="422.50" y1="520.43" x2="425.50" y2="520.43" stroke="#2e2e2e" stroke-width="1"/>
<text transform="translate(419.20,523.36) rotate(0) scale(0.76,1)" font-size="8.6" fill="#333" stroke="#333" stroke-width="0.12" text-anchor="end">0.5</text>
<line x1="422.50" y1="491.57" x2="425.50" y2="491.57" stroke="#2e2e2e" stroke-width="1"/>
<text transform="translate(419.20,494.49) rotate(0) scale(0.76,1)" font-size="8.6" fill="#333" stroke="#333" stroke-width="0.12" text-anchor="end">1.0</text>
<line x1="422.50" y1="462.70" x2="425.50" y2="462.70" stroke="#2e2e2e" stroke-width="1"/>
<text transform="translate(419.20,465.62) rotate(0) scale(0.76,1)" font-size="8.6" fill="#333" stroke="#333" stroke-width="0.12" text-anchor="end">1.5</text>
<line x1="424.70" y1="549.30" x2="500.50" y2="549.30" stroke="#2e2e2e" stroke-width="1.6"/>
<line x1="437.40" y1="549.30" x2="437.40" y2="552.30" stroke="#2e2e2e" stroke-width="1"/>
<line x1="456.20" y1="549.30" x2="456.20" y2="552.30" stroke="#2e2e2e" stroke-width="1"/>
<line x1="474.70" y1="549.30" x2="474.70" y2="552.30" stroke="#2e2e2e" stroke-width="1"/>
<line x1="493.50" y1="549.30" x2="493.50" y2="552.30" stroke="#2e2e2e" stroke-width="1"/>
<text transform="translate(437.40,562.00) rotate(0) scale(0.82,1)" font-size="8.4" fill="#333" stroke="#333" stroke-width="0.1" text-anchor="middle">0</text>
<text transform="translate(456.20,562.00) rotate(0) scale(0.82,1)" font-size="8.4" fill="#333" stroke="#333" stroke-width="0.1" text-anchor="middle">1</text>
<text transform="translate(474.70,562.00) rotate(0) scale(0.82,1)" font-size="8.4" fill="#333" stroke="#333" stroke-width="0.1" text-anchor="middle">10</text>
<text transform="translate(493.50,562.00) rotate(0) scale(0.82,1)" font-size="8.4" fill="#333" stroke="#333" stroke-width="0.1" text-anchor="middle">100</text>
<text x="466.20" y="574.40" font-size="9" fill="#333" stroke="#333" stroke-width="0.1" text-anchor="middle" textLength="38.8" lengthAdjust="spacingAndGlyphs">IFNα (U/mL)</text>
<text transform="translate(404.70,504.30) rotate(-90)" font-size="9.2" fill="#2a2a2a" stroke="#2a2a2a" stroke-width="0.1" text-anchor="middle" textLength="85.5" lengthAdjust="spacingAndGlyphs">Fold change of pStat5 level</text>
<line x1="437.70" y1="487.00" x2="456.20" y2="487.00" stroke="#333" stroke-width="1.1"/>
<text x="446.95" y="487.45" font-size="7.7" fill="#333" stroke="#333" stroke-width="0.25" text-anchor="middle">*</text>
<line x1="437.70" y1="478.20" x2="474.70" y2="478.20" stroke="#333" stroke-width="1.1"/>
<text x="456.20" y="478.65" font-size="7.7" fill="#333" stroke="#333" stroke-width="0.25" text-anchor="middle">**</text>
<line x1="437.70" y1="468.00" x2="493.90" y2="468.00" stroke="#333" stroke-width="1.1"/>
<text x="465.80" y="468.45" font-size="7.7" fill="#333" stroke="#333" stroke-width="0.25" text-anchor="middle">**</text>
<text x="7.30" y="596.40" font-size="12.5" fill="#111" stroke="#111" stroke-width="0.35" font-weight="bold">L</text>
<text x="77.00" y="596.40" font-size="9.1" fill="#222" stroke="#222" stroke-width="0.1" text-anchor="middle" font-style="italic" textLength="16.5" lengthAdjust="spacingAndGlyphs">Cish</text>
<rect x="63.00" y="661.83" width="9.60" height="28.67" fill="#8895C0"/>
<rect x="79.55" y="623.71" width="9.90" height="66.79" fill="#E5877A"/>
<line x1="84.50" y1="623.71" x2="84.50" y2="618.80" stroke="#c84f5e" stroke-width="0.9"/>
<line x1="82.90" y1="618.80" x2="86.10" y2="618.80" stroke="#c84f5e" stroke-width="0.9"/>
<circle cx="64.70" cy="662.00" r="1.65" fill="#fff" fill-opacity="0.6" stroke="#22366a" stroke-width="1.3"/>
<circle cx="68.00" cy="662.00" r="1.65" fill="#fff" fill-opacity="0.6" stroke="#22366a" stroke-width="1.3"/>
<circle cx="71.30" cy="662.00" r="1.65" fill="#fff" fill-opacity="0.6" stroke="#22366a" stroke-width="1.3"/>
<circle cx="84.80" cy="614.70" r="1.65" fill="#fff" fill-opacity="0.6" stroke="#6a1e22" stroke-width="1.3"/>
<circle cx="81.20" cy="627.10" r="1.65" fill="#fff" fill-opacity="0.6" stroke="#6a1e22" stroke-width="1.3"/>
<circle cx="88.60" cy="627.10" r="1.65" fill="#fff" fill-opacity="0.6" stroke="#6a1e22" stroke-width="1.3"/>
<line x1="56.10" y1="602.50" x2="56.10" y2="691.30" stroke="#2e2e2e" stroke-width="1.6"/>
<line x1="53.10" y1="690.50" x2="56.10" y2="690.50" stroke="#2e2e2e" stroke-width="1"/>
<text transform="translate(49.80,693.42) rotate(0) scale(0.76,1)" font-size="8.6" fill="#333" stroke="#333" stroke-width="0.12" text-anchor="end">0</text>
<line x1="53.10" y1="661.83" x2="56.10" y2="661.83" stroke="#2e2e2e" stroke-width="1"/>
<text transform="translate(49.80,664.76) rotate(0) scale(0.76,1)" font-size="8.6" fill="#333" stroke="#333" stroke-width="0.12" text-anchor="end">1</text>
<line x1="53.10" y1="633.17" x2="56.10" y2="633.17" stroke="#2e2e2e" stroke-width="1"/>
<text transform="translate(49.80,636.09) rotate(0) scale(0.76,1)" font-size="8.6" fill="#333" stroke="#333" stroke-width="0.12" text-anchor="end">2</text>
<line x1="53.10" y1="604.50" x2="56.10" y2="604.50" stroke="#2e2e2e" stroke-width="1"/>
<text transform="translate(49.80,607.42) rotate(0) scale(0.76,1)" font-size="8.6" fill="#333" stroke="#333" stroke-width="0.12" text-anchor="end">3</text>
<line x1="55.30" y1="690.50" x2="96.20" y2="690.50" stroke="#2e2e2e" stroke-width="1.6"/>
<line x1="67.80" y1="690.50" x2="67.80" y2="693.50" stroke="#2e2e2e" stroke-width="1"/>
<line x1="84.50" y1="690.50" x2="84.50" y2="693.50" stroke="#2e2e2e" stroke-width="1"/>
<text transform="translate(41.20,646.50) rotate(-90)" font-size="9.2" fill="#2a2a2a" stroke="#2a2a2a" stroke-width="0.1" text-anchor="middle" textLength="76.7" lengthAdjust="spacingAndGlyphs">Relative <tspan font-style="italic">Cish</tspan> mRNA level</text>
<text transform="translate(69.10,699.70) rotate(-45) scale(0.97,1)" font-size="7.1" fill="#333" stroke="#333" stroke-width="0.1" text-anchor="end">AA/PBS</text>
<text transform="translate(85.80,699.70) rotate(-45) scale(0.97,1)" font-size="7.1" fill="#333" stroke="#333" stroke-width="0.1" text-anchor="end">AA/IFNα</text>
<line x1="68.30" y1="609.80" x2="84.50" y2="609.80" stroke="#333" stroke-width="1.1"/>
<text x="76.40" y="610.25" font-size="7.7" fill="#333" stroke="#333" stroke-width="0.25" text-anchor="middle">***</text>
<text x="112.90" y="596.40" font-size="12.5" fill="#111" stroke="#111" stroke-width="0.35" font-weight="bold">M</text>
<text x="156.90" y="636.30" font-size="7.4" fill="#333" stroke="#333" stroke-width="0.1" text-anchor="middle">AA</text>
<text x="183.50" y="636.30" font-size="7.4" fill="#333" stroke="#333" stroke-width="0.1" text-anchor="middle">SS</text>
<rect x="146.00" y="640.40" width="48.00" height="15.80" fill="#efefef" stroke="#606060" stroke-width="0.9"/>
<rect x="148.80" y="647.50" width="18.30" height="3.00" rx="1.50" fill="#8a8a8a" opacity="1.0" filter="url(#b4)"/>
<rect x="173.50" y="647.20" width="18.60" height="3.20" rx="1.60" fill="#1e1e1e" opacity="1.0" filter="url(#b4)"/>
<rect x="146.00" y="660.60" width="48.00" height="16.30" fill="#ececec" stroke="#606060" stroke-width="0.9"/>
<rect x="149.80" y="667.70" width="17.30" height="3.00" rx="1.50" fill="#1a1a1a" opacity="1.0" filter="url(#b4)"/>
<rect x="173.50" y="667.50" width="18.00" height="3.00" rx="1.50" fill="#1a1a1a" opacity="1.0" filter="url(#b4)"/>
<text x="142.70" y="651.60" font-size="7.2" fill="#333" stroke="#333" stroke-width="0.1" text-anchor="end">Stat2</text>
<text x="142.70" y="670.90" font-size="7.2" fill="#333" stroke="#333" stroke-width="0.1" text-anchor="end">Actin</text>
<line x1="194.30" y1="651.00" x2="197.60" y2="651.00" stroke="#333" stroke-width="1.0"/>
<text x="201.70" y="653.59" font-size="7.2" fill="#333" stroke="#333" stroke-width="0.1">100</text>
<line x1="194.30" y1="665.40" x2="197.60" y2="665.40" stroke="#333" stroke-width="1.0"/>
<text x="201.70" y="667.99" font-size="7.2" fill="#333" stroke="#333" stroke-width="0.1">50</text>
<text x="229.30" y="596.00" font-size="12.5" fill="#111" stroke="#111" stroke-width="0.35" font-weight="bold">N</text>
<rect x="271.60" y="647.40" width="9.20" height="42.90" fill="#8895C0"/>
<rect x="288.20" y="625.50" width="9.00" height="64.80" fill="#E5877A"/>
<line x1="292.70" y1="625.50" x2="292.70" y2="620.50" stroke="#c84f5e" stroke-width="0.9"/>
<line x1="291.10" y1="620.50" x2="294.30" y2="620.50" stroke="#c84f5e" stroke-width="0.9"/>
<circle cx="272.40" cy="647.70" r="1.65" fill="#fff" fill-opacity="0.6" stroke="#22366a" stroke-width="1.3"/>
<circle cx="276.30" cy="647.70" r="1.65" fill="#fff" fill-opacity="0.6" stroke="#22366a" stroke-width="1.3"/>
<circle cx="280.30" cy="647.70" r="1.65" fill="#fff" fill-opacity="0.6" stroke="#22366a" stroke-width="1.3"/>
<circle cx="292.90" cy="617.60" r="1.65" fill="#fff" fill-opacity="0.6" stroke="#6a1e22" stroke-width="1.3"/>
<circle cx="292.90" cy="621.60" r="1.65" fill="#fff" fill-opacity="0.6" stroke="#6a1e22" stroke-width="1.3"/>
<circle cx="292.90" cy="634.70" r="1.65" fill="#fff" fill-opacity="0.6" stroke="#6a1e22" stroke-width="1.3"/>
<line x1="264.50" y1="602.50" x2="264.50" y2="691.10" stroke="#2e2e2e" stroke-width="1.6"/>
<line x1="261.50" y1="690.30" x2="264.50" y2="690.30" stroke="#2e2e2e" stroke-width="1"/>
<text transform="translate(258.20,693.22) rotate(0) scale(0.76,1)" font-size="8.6" fill="#333" stroke="#333" stroke-width="0.12" text-anchor="end">0</text>
<line x1="261.50" y1="668.85" x2="264.50" y2="668.85" stroke="#2e2e2e" stroke-width="1"/>
<line x1="261.50" y1="647.40" x2="264.50" y2="647.40" stroke="#2e2e2e" stroke-width="1"/>
<text transform="translate(258.20,650.32) rotate(0) scale(0.76,1)" font-size="8.6" fill="#333" stroke="#333" stroke-width="0.12" text-anchor="end">1</text>
<line x1="261.50" y1="625.95" x2="264.50" y2="625.95" stroke="#2e2e2e" stroke-width="1"/>
<line x1="261.50" y1="604.50" x2="264.50" y2="604.50" stroke="#2e2e2e" stroke-width="1"/>
<text transform="translate(258.20,607.42) rotate(0) scale(0.76,1)" font-size="8.6" fill="#333" stroke="#333" stroke-width="0.12" text-anchor="end">2</text>
<line x1="263.70" y1="690.30" x2="304.00" y2="690.30" stroke="#2e2e2e" stroke-width="1.6"/>
<line x1="276.20" y1="690.30" x2="276.20" y2="693.30" stroke="#2e2e2e" stroke-width="1"/>
<line x1="292.70" y1="690.30" x2="292.70" y2="693.30" stroke="#2e2e2e" stroke-width="1"/>
<text x="275.50" y="703.00" font-size="7.4" fill="#333" stroke="#333" stroke-width="0.1" text-anchor="middle">AA</text>
<text x="292.10" y="703.00" font-size="7.4" fill="#333" stroke="#333" stroke-width="0.1" text-anchor="middle">SS</text>
<text transform="translate(249.20,646.10) rotate(-90)" font-size="9.2" fill="#2a2a2a" stroke="#2a2a2a" stroke-width="0.1" text-anchor="middle" textLength="83.8" lengthAdjust="spacingAndGlyphs">Relative Stat2 protein level</text>
<line x1="276.30" y1="612.90" x2="292.90" y2="612.90" stroke="#333" stroke-width="1.1"/>
<text x="284.60" y="613.35" font-size="7.7" fill="#333" stroke="#333" stroke-width="0.25" text-anchor="middle">*</text>
<text x="320.90" y="596.00" font-size="12.5" fill="#111" stroke="#111" stroke-width="0.35" font-weight="bold">O</text>
<text x="376.50" y="596.10" font-size="9.1" fill="#222" stroke="#222" stroke-width="0.1" text-anchor="middle" textLength="16.5" lengthAdjust="spacingAndGlyphs">Cish</text>
<rect x="363.00" y="673.34" width="9.60" height="17.26" fill="#8895C0"/>
<rect x="379.50" y="620.00" width="9.60" height="70.60" fill="#E5877A"/>
<line x1="384.30" y1="620.00" x2="384.30" y2="614.70" stroke="#c84f5e" stroke-width="0.9"/>
<line x1="382.70" y1="614.70" x2="385.90" y2="614.70" stroke="#c84f5e" stroke-width="0.9"/>
<circle cx="364.20" cy="674.10" r="1.65" fill="#fff" fill-opacity="0.6" stroke="#22366a" stroke-width="1.3"/>
<circle cx="367.60" cy="674.10" r="1.65" fill="#fff" fill-opacity="0.6" stroke="#22366a" stroke-width="1.3"/>
<circle cx="371.30" cy="674.10" r="1.65" fill="#fff" fill-opacity="0.6" stroke="#22366a" stroke-width="1.3"/>
<circle cx="380.30" cy="614.40" r="1.65" fill="#fff" fill-opacity="0.6" stroke="#6a1e22" stroke-width="1.3"/>
<circle cx="387.80" cy="613.90" r="1.65" fill="#fff" fill-opacity="0.6" stroke="#6a1e22" stroke-width="1.3"/>
<circle cx="383.60" cy="629.60" r="1.65" fill="#fff" fill-opacity="0.6" stroke="#6a1e22" stroke-width="1.3"/>
<line x1="356.10" y1="602.30" x2="356.10" y2="691.40" stroke="#2e2e2e" stroke-width="1.6"/>
<line x1="353.10" y1="690.60" x2="356.10" y2="690.60" stroke="#2e2e2e" stroke-width="1"/>
<text transform="translate(349.80,693.52) rotate(0) scale(0.76,1)" font-size="8.6" fill="#333" stroke="#333" stroke-width="0.12" text-anchor="end">0</text>
<line x1="353.10" y1="673.34" x2="356.10" y2="673.34" stroke="#2e2e2e" stroke-width="1"/>
<text transform="translate(349.80,676.26) rotate(0) scale(0.76,1)" font-size="8.6" fill="#333" stroke="#333" stroke-width="0.12" text-anchor="end">1</text>
<line x1="353.10" y1="656.08" x2="356.10" y2="656.08" stroke="#2e2e2e" stroke-width="1"/>
<text transform="translate(349.80,659.00) rotate(0) scale(0.76,1)" font-size="8.6" fill="#333" stroke="#333" stroke-width="0.12" text-anchor="end">2</text>
<line x1="353.10" y1="638.82" x2="356.10" y2="638.82" stroke="#2e2e2e" stroke-width="1"/>
<text transform="translate(349.80,641.74) rotate(0) scale(0.76,1)" font-size="8.6" fill="#333" stroke="#333" stroke-width="0.12" text-anchor="end">3</text>
<line x1="353.10" y1="621.56" x2="356.10" y2="621.56" stroke="#2e2e2e" stroke-width="1"/>
<text transform="translate(349.80,624.48) rotate(0) scale(0.76,1)" font-size="8.6" fill="#333" stroke="#333" stroke-width="0.12" text-anchor="end">4</text>
<line x1="353.10" y1="604.30" x2="356.10" y2="604.30" stroke="#2e2e2e" stroke-width="1"/>
<text transform="translate(349.80,607.22) rotate(0) scale(0.76,1)" font-size="8.6" fill="#333" stroke="#333" stroke-width="0.12" text-anchor="end">5</text>
<line x1="355.30" y1="690.60" x2="393.50" y2="690.60" stroke="#2e2e2e" stroke-width="1.6"/>
<line x1="367.80" y1="690.60" x2="367.80" y2="693.60" stroke="#2e2e2e" stroke-width="1"/>
<line x1="384.30" y1="690.60" x2="384.30" y2="693.60" stroke="#2e2e2e" stroke-width="1"/>
<text x="367.60" y="703.00" font-size="7.4" fill="#333" stroke="#333" stroke-width="0.1" text-anchor="middle">AA</text>
<text x="386.10" y="703.00" font-size="7.4" fill="#333" stroke="#333" stroke-width="0.1" text-anchor="middle">SS</text>
<text transform="translate(341.50,646.50) rotate(-90)" font-size="9.2" fill="#2a2a2a" stroke="#2a2a2a" stroke-width="0.1" text-anchor="middle" textLength="76.7" lengthAdjust="spacingAndGlyphs">Relative Cish mRNA level</text>
<line x1="368.30" y1="610.10" x2="384.50" y2="610.10" stroke="#333" stroke-width="1.1"/>
<text x="376.40" y="610.55" font-size="7.7" fill="#333" stroke="#333" stroke-width="0.25" text-anchor="middle">**</text>
<rect x="0" y="0" width="520" height="1.1" fill="#444"/>
<rect x="0" y="0" width="1.1" height="727" fill="#444"/>
<rect x="518.9" y="0" width="1.1" height="727" fill="#3a3a3a"/>
<rect x="0" y="725.7" width="520" height="1.3" fill="#333"/>
</svg>
</body></html>
